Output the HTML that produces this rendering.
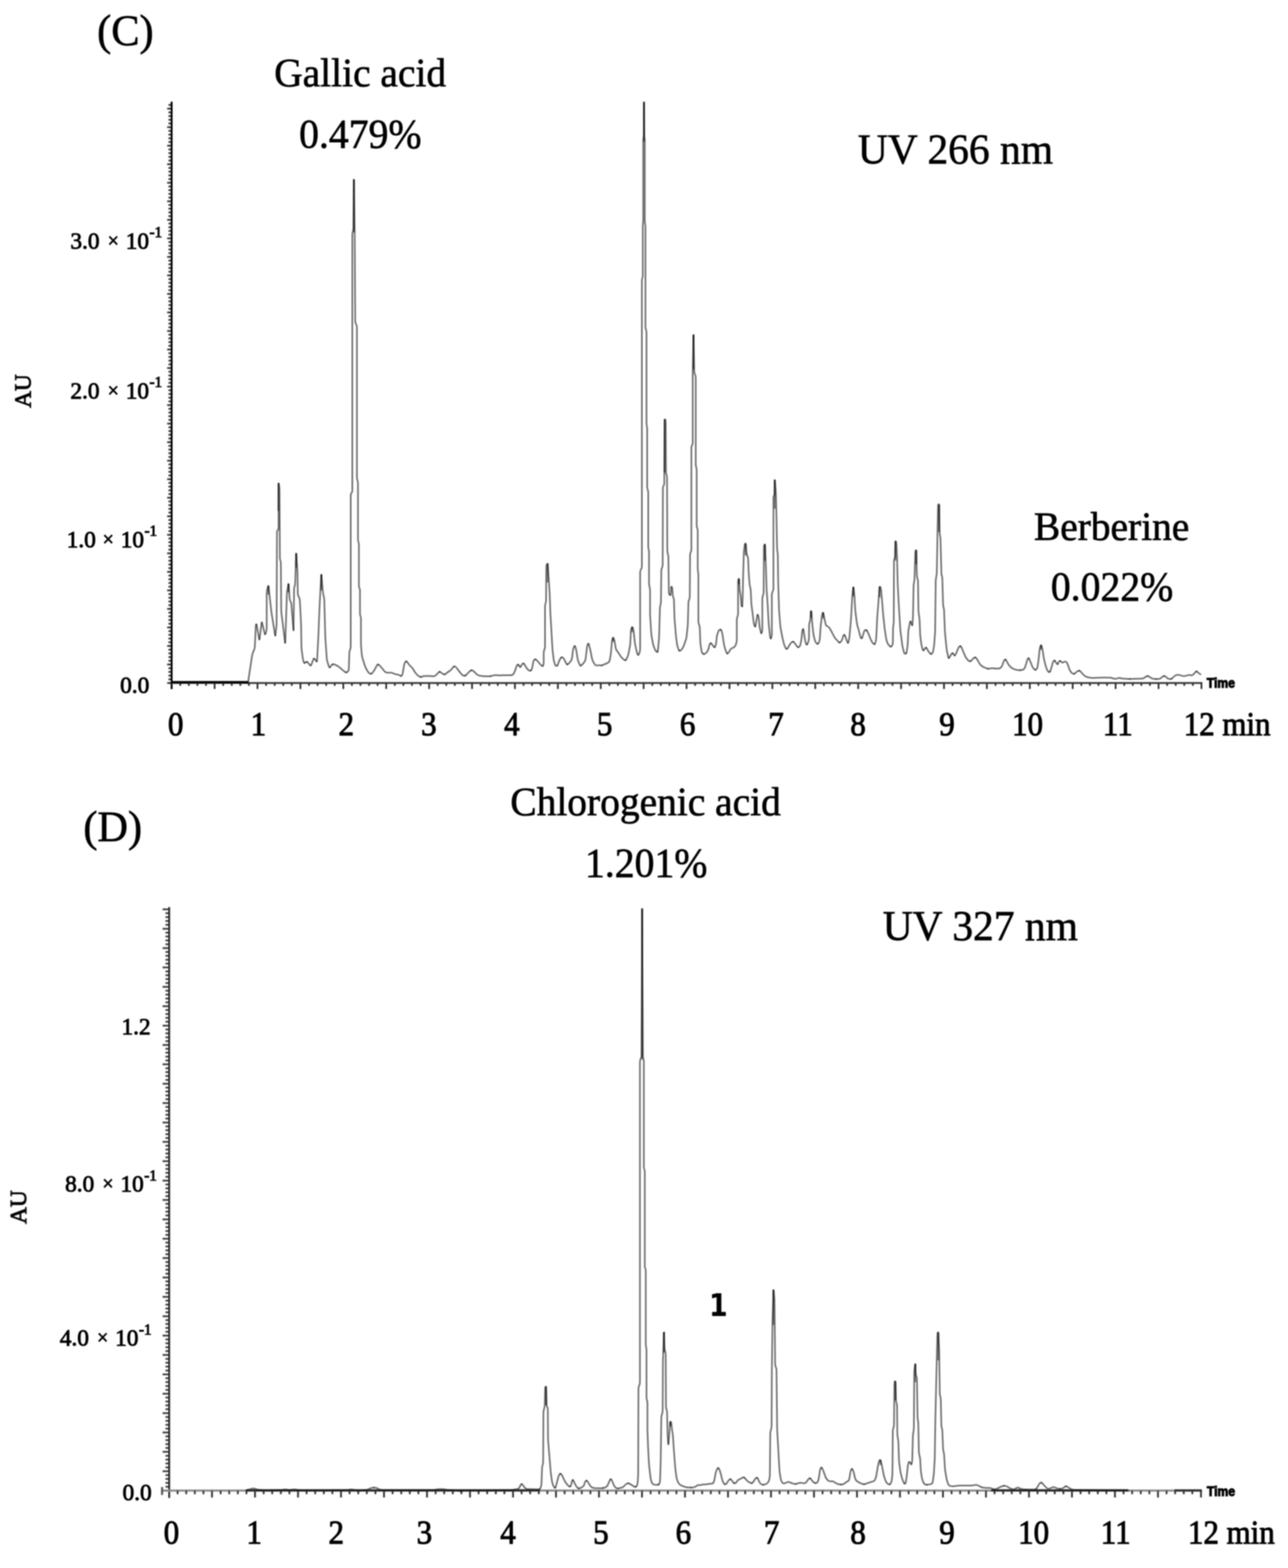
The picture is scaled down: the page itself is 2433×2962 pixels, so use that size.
<!DOCTYPE html>
<html lang="en"><head><meta charset="utf-8"><title>HPLC chromatograms (C) UV 266 nm and (D) UV 327 nm</title>
<style>html,body{margin:0;padding:0;background:#fff}svg{display:block}text{font-family:"Liberation Serif","DejaVu Serif",serif;fill:#000}.b{font-family:"DejaVu Sans","Liberation Sans",sans-serif;font-weight:bold}.tr path{fill:none;stroke:#6c6c6c;stroke-width:3.0;stroke-linejoin:round;stroke-linecap:round;mix-blend-mode:multiply}.tr path.tp{stroke:#000;stroke-opacity:0.5;stroke-width:3.6;stroke-linecap:butt}.t{font-family:"Liberation Sans","DejaVu Sans",sans-serif;font-weight:bold}</style></head>
<body><svg width="2433" height="2962" viewBox="0 0 2433 2962">
<rect width="2433" height="2962" fill="#fff"/>
<defs><filter id="bl" x="-5%" y="-5%" width="110%" height="110%"><feGaussianBlur stdDeviation="1.0"/></filter><filter id="bt" x="-5%" y="-5%" width="110%" height="110%"><feGaussianBlur stdDeviation="0.85"/></filter></defs>
<g filter="url(#bl)">
<path d="M318.2,1283.2H324.2M318.2,1276.2H324.2M318.2,1269.2H324.2M318.2,1262.2H324.2M318.2,1248.2H324.2M318.2,1241.2H324.2M318.2,1234.2H324.2M318.2,1227.2H324.2M318.2,1213.2H324.2M318.2,1206.2H324.2M318.2,1199.2H324.2M318.2,1192.2H324.2M318.2,1178.2H324.2M318.2,1171.2H324.2M318.2,1164.2H324.2M318.2,1157.2H324.2M318.2,1143.2H324.2M318.2,1136.2H324.2M318.2,1129.2H324.2M318.2,1122.2H324.2M318.2,1108.2H324.2M318.2,1101.2H324.2M318.2,1094.2H324.2M318.2,1087.2H324.2M318.2,1073.2H324.2M318.2,1066.2H324.2M318.2,1059.2H324.2M318.2,1052.2H324.2M318.2,1038.2H324.2M318.2,1031.2H324.2M318.2,1024.2H324.2M318.2,1017.2H324.2M318.2,1003.2H324.2M318.2,996.2H324.2M318.2,989.2H324.2M318.2,982.2H324.2M318.2,968.2H324.2M318.2,961.2H324.2M318.2,954.2H324.2M318.2,947.2H324.2M318.2,933.2H324.2M318.2,926.2H324.2M318.2,919.2H324.2M318.2,912.2H324.2M318.2,898.2H324.2M318.2,891.2H324.2M318.2,884.2H324.2M318.2,877.2H324.2M318.2,863.2H324.2M318.2,856.2H324.2M318.2,849.2H324.2M318.2,842.2H324.2M318.2,828.2H324.2M318.2,821.2H324.2M318.2,814.2H324.2M318.2,807.2H324.2M318.2,793.2H324.2M318.2,786.2H324.2M318.2,779.2H324.2M318.2,772.2H324.2M318.2,758.2H324.2M318.2,751.2H324.2M318.2,744.2H324.2M318.2,737.2H324.2M318.2,723.2H324.2M318.2,716.2H324.2M318.2,709.2H324.2M318.2,702.2H324.2M318.2,688.2H324.2M318.2,681.2H324.2M318.2,674.2H324.2M318.2,667.2H324.2M318.2,653.2H324.2M318.2,646.2H324.2M318.2,639.2H324.2M318.2,632.2H324.2M318.2,618.2H324.2M318.2,611.2H324.2M318.2,604.2H324.2M318.2,597.2H324.2M318.2,583.2H324.2M318.2,576.2H324.2M318.2,569.2H324.2M318.2,562.2H324.2M318.2,548.2H324.2M318.2,541.2H324.2M318.2,534.2H324.2M318.2,527.2H324.2M318.2,513.2H324.2M318.2,506.2H324.2M318.2,499.2H324.2M318.2,492.2H324.2M318.2,478.2H324.2M318.2,471.2H324.2M318.2,464.2H324.2M318.2,457.2H324.2M318.2,443.2H324.2M318.2,436.2H324.2M318.2,429.2H324.2M318.2,422.2H324.2M318.2,408.2H324.2M318.2,401.2H324.2M318.2,394.2H324.2M318.2,387.2H324.2M318.2,373.2H324.2M318.2,366.2H324.2M318.2,359.2H324.2M318.2,352.2H324.2M318.2,338.2H324.2M318.2,331.2H324.2M318.2,324.2H324.2M318.2,317.2H324.2M318.2,303.2H324.2M318.2,296.2H324.2M318.2,289.2H324.2M318.2,282.2H324.2M318.2,268.2H324.2M318.2,261.2H324.2M318.2,254.2H324.2M318.2,247.2H324.2M318.2,233.2H324.2M318.2,226.2H324.2M318.2,219.2H324.2M318.2,212.2H324.2M318.2,198.2H324.2" stroke="#3c3c3c" stroke-width="3.6" fill="none"/>
<path d="M315.8,1290.2H324.2M315.8,1255.2H324.2M315.8,1220.2H324.2M315.8,1185.2H324.2M315.8,1150.2H324.2M315.8,1115.2H324.2M315.8,1080.2H324.2M315.8,1045.2H324.2M315.8,1010.2H324.2M315.8,975.2H324.2M315.8,940.2H324.2M315.8,905.2H324.2M315.8,870.2H324.2M315.8,835.2H324.2M315.8,800.2H324.2M315.8,765.2H324.2M315.8,730.2H324.2M315.8,695.2H324.2M315.8,660.2H324.2M315.8,625.2H324.2M315.8,590.2H324.2M315.8,555.2H324.2M315.8,520.2H324.2M315.8,485.2H324.2M315.8,450.2H324.2M315.8,415.2H324.2M315.8,380.2H324.2M315.8,345.2H324.2M315.8,310.2H324.2M315.8,275.2H324.2M315.8,240.2H324.2M315.8,205.2H324.2" stroke="#3c3c3c" stroke-width="3.6" fill="none"/>
<rect x="322.4" y="192" width="3.6" height="1109.8" fill="#000"/>
<path d="M324.2,1290.2H2271.2" stroke="#3c3c3c" stroke-width="3.5" fill="none"/>
<path d="M324.2,1288.8H470" stroke="#000" stroke-width="4.6" fill="none"/>
<path d="M405.4,1290.2v11.2M486.4,1290.2v11.2M567.5,1290.2v11.2M648.5,1290.2v11.2M729.5,1290.2v11.2M810.6,1290.2v11.2M891.7,1290.2v11.2M972.7,1290.2v11.2M1053.8,1290.2v11.2M1134.8,1290.2v11.2M1215.8,1290.2v11.2M1296.9,1290.2v11.2M1378.0,1290.2v11.2M1459.0,1290.2v11.2M1540.0,1290.2v11.2M1621.1,1290.2v11.2M1702.1,1290.2v11.2M1783.2,1290.2v11.2M1864.2,1290.2v11.2M1945.3,1290.2v11.2M2026.3,1290.2v11.2M2107.4,1290.2v11.2M2188.5,1290.2v11.2M2269.5,1290.2v11.2" stroke="#2a2a2a" stroke-width="3.2" fill="none"/>
<path d="M340.5,1290.2v5.2M356.7,1290.2v5.2M372.9,1290.2v5.2M389.1,1290.2v5.2M421.6,1290.2v5.2M437.8,1290.2v5.2M454.0,1290.2v5.2M470.2,1290.2v5.2M502.6,1290.2v5.2M518.8,1290.2v5.2M535.0,1290.2v5.2M551.2,1290.2v5.2M583.7,1290.2v5.2M599.9,1290.2v5.2M616.1,1290.2v5.2M632.3,1290.2v5.2M664.7,1290.2v5.2M680.9,1290.2v5.2M697.1,1290.2v5.2M713.3,1290.2v5.2M745.8,1290.2v5.2M762.0,1290.2v5.2M778.2,1290.2v5.2M794.4,1290.2v5.2M826.8,1290.2v5.2M843.0,1290.2v5.2M859.2,1290.2v5.2M875.4,1290.2v5.2M907.9,1290.2v5.2M924.1,1290.2v5.2M940.3,1290.2v5.2M956.5,1290.2v5.2M988.9,1290.2v5.2M1005.1,1290.2v5.2M1021.3,1290.2v5.2M1037.5,1290.2v5.2M1070.0,1290.2v5.2M1086.2,1290.2v5.2M1102.4,1290.2v5.2M1118.6,1290.2v5.2M1151.0,1290.2v5.2M1167.2,1290.2v5.2M1183.4,1290.2v5.2M1199.6,1290.2v5.2M1232.1,1290.2v5.2M1248.3,1290.2v5.2M1264.5,1290.2v5.2M1280.7,1290.2v5.2M1313.1,1290.2v5.2M1329.3,1290.2v5.2M1345.5,1290.2v5.2M1361.7,1290.2v5.2M1394.2,1290.2v5.2M1410.4,1290.2v5.2M1426.6,1290.2v5.2M1442.8,1290.2v5.2M1475.2,1290.2v5.2M1491.4,1290.2v5.2M1507.6,1290.2v5.2M1523.8,1290.2v5.2M1556.3,1290.2v5.2M1572.5,1290.2v5.2M1588.7,1290.2v5.2M1604.9,1290.2v5.2M1637.3,1290.2v5.2M1653.5,1290.2v5.2M1669.7,1290.2v5.2M1685.9,1290.2v5.2M1718.4,1290.2v5.2M1734.6,1290.2v5.2M1750.8,1290.2v5.2M1767.0,1290.2v5.2M1799.4,1290.2v5.2M1815.6,1290.2v5.2M1831.8,1290.2v5.2M1848.0,1290.2v5.2M1880.5,1290.2v5.2M1896.7,1290.2v5.2M1912.9,1290.2v5.2M1929.1,1290.2v5.2M1961.5,1290.2v5.2M1977.7,1290.2v5.2M1993.9,1290.2v5.2M2010.1,1290.2v5.2M2042.6,1290.2v5.2M2058.8,1290.2v5.2M2075.0,1290.2v5.2M2091.2,1290.2v5.2M2123.6,1290.2v5.2M2139.8,1290.2v5.2M2156.0,1290.2v5.2M2172.2,1290.2v5.2M2204.7,1290.2v5.2M2220.9,1290.2v5.2M2237.1,1290.2v5.2M2253.3,1290.2v5.2" stroke="#2a2a2a" stroke-width="3.2" fill="none"/>
<g class="tr"><path d="M468.8,1287.5L473.1,1259Q473.8,1255 474.3,1251L475.7,1241.5Q476.2,1237.5 477.5,1233.8L477.5,1233.8Q478.8,1230 480,1227.5L480,1227.5Q481.2,1225 481.4,1221L483.1,1184Q483.2,1180 483.9,1179.4L483.9,1179.4Q484.2,1179.1 484.5,1179.9"/>
<path d="M484.5,1179.9Q484.8,1180.7 485.2,1182.7L489.3,1206.1Q489.7,1208 489.9,1208"/>
<path d="M489.9,1208Q490.2,1208 490.5,1206L494,1177.7Q494.3,1175.7 494.6,1175.7"/>
<path d="M494.6,1175.7Q495,1175.7 495.4,1177.6L499.8,1196.1Q500.3,1198.1 500.8,1198.1"/>
<path d="M500.8,1198.1Q501.3,1198.1 501.9,1196.2L502.6,1193.8Q503.8,1190 503.8,1186L503.8,1121.5Q503.8,1117.5 504.8,1113.6L506,1108.9Q506.5,1106.9 506.9,1107"/>
<path d="M506.9,1107Q507.2,1107 507.4,1109L512.1,1151Q512.5,1155 513.1,1159L519.4,1198.5Q519.7,1200.5 520,1200.5"/>
<path d="M520,1200.5Q520.2,1200.5 520.4,1198.5L522.1,1184Q522.5,1180 522.5,1176L523.2,1006.5Q523.2,1002.5 524.8,1001.2L524.8,1001.2Q526.2,1000 526.2,996L526.2,915.2Q526.2,913.2 526.4,913.2"/>
<path d="M526.4,913.2Q526.6,913.2 526.9,915.2L527.4,918.5Q528,922.5 528,926.5L528.7,1053.5Q528.8,1057.5 529.6,1058.8L529.6,1058.8Q530.5,1060 530.5,1064L531.2,1151Q531.2,1155 531.7,1159L538.3,1212.3Q538.5,1214.3 538.7,1214.3"/>
<path d="M538.7,1214.3Q538.8,1214.3 538.9,1212.3L541.9,1124Q542,1120 542.6,1116.1L544.4,1105.2Q544.7,1103.2 544.9,1103.2"/>
<path d="M544.9,1103.2Q545.1,1103.2 545.3,1105.2L547.2,1131Q547.5,1135 548.8,1136.2L548.8,1136.2Q550,1137.5 550.3,1141.5L554.2,1188.5Q554.3,1190.5 554.4,1190.5"/>
<path d="M554.4,1190.5Q554.5,1190.5 554.5,1188.5L555.5,1114Q555.5,1110 556.5,1107.5L556.5,1107.5Q557.5,1105 557.6,1101L559.4,1047.7Q559.4,1045.7 559.5,1045.7"/>
<path d="M559.5,1045.7Q559.6,1045.7 559.8,1047.7L561.7,1076Q562,1080 562,1084L562.5,1121Q562.5,1125 564.4,1127.5L564.4,1127.5Q566.2,1130 566.4,1134L568.6,1176Q568.8,1180 568.8,1184L569.4,1221Q569.5,1225 570,1229L572,1243.5Q572.5,1247.5 573.8,1250.6L573.8,1250.6Q574.4,1252.2 575.2,1252.3"/>
<path d="M575.2,1252.3Q576.1,1252.5 577.2,1251.2L577.2,1251.2Q578.4,1250 579.5,1250.2"/>
<path d="M579.5,1250.2Q580.7,1250.3 581.9,1252L584.6,1255.5Q585.8,1257.2 586.7,1257"/>
<path d="M586.7,1257Q587.7,1256.9 588.4,1255L591.6,1246.3Q592.3,1244.4 593.2,1244.3"/>
<path d="M593.2,1244.3Q594.1,1244.2 595.2,1245.8L596.6,1247.9Q597.7,1249.6 598.3,1249.4"/>
<path d="M598.3,1249.4Q598.9,1249.3 599,1247.3L601,1209Q601.2,1205 601.4,1201L603.6,1146.5Q603.8,1142.5 604,1138.5L606.8,1087.7Q606.9,1085.7 607,1085.7"/>
<path d="M607,1085.7Q607.2,1085.7 607.3,1087.7L609.7,1116Q610,1120 611,1123.9L611.5,1126.1Q612.5,1130 612.6,1134L614.4,1201Q614.5,1205 614.8,1209L617.2,1243.5Q617.5,1247.5 618.8,1251.3L621.2,1258.7Q621.9,1260.6 622.7,1260.7"/>
<path d="M622.7,1260.7Q623.6,1260.8 624.6,1259.1L625.9,1257.1Q626.9,1255.4 628.4,1255"/>
<path d="M628.4,1255Q629.9,1254.5 631.7,1255.2L633.8,1256Q637.5,1257.5 640.6,1260.1L641.9,1261.2Q645,1263.8 648,1266.4L650.7,1268.6Q652.2,1269.9 653.6,1270.1"/>
<path d="M653.6,1270.1Q655,1270.3 656.2,1269.4L656.2,1269.4Q658.8,1267.5 658.9,1263.5L659.9,1234Q660,1230 661.2,1227.5L661.2,1227.5Q662.5,1225 662.5,1221L662.5,936.5Q662.5,932.5 664,931.2L664,931.2Q665.5,930 665.5,926L665.5,444Q665.5,440 666.5,437.5L666.5,437.5Q667.5,435 667.5,431L668.5,341.5Q668.5,339.5 668.5,339.5"/>
<path d="M668.5,339.5Q668.5,339.5 668.6,341.5L669.9,431Q670,435 670,439L671,606Q671,610 672.6,612.5L672.6,612.5Q674.2,615 674.2,619L674.2,901Q674.2,905 675.2,907.5L675.2,907.5Q676.2,910 676.2,914L676.2,1018.5Q676.2,1022.5 677.1,1023.8L677.1,1023.8Q678,1025 678,1029L678,1106Q678,1110 679,1111.2L679,1111.2Q680,1112.5 680,1116.5L680,1158.5Q680,1162.5 680.9,1163.8L680.9,1163.8Q681.8,1165 681.8,1169L681.8,1213.5Q681.8,1217.5 682.1,1221.5L683.4,1236Q683.8,1240 684.9,1243.8L688.8,1256.2Q690,1260 691.9,1263.5L694.3,1267.8Q696.2,1271.2 698.8,1272.5L698.8,1272.5Q700,1273.1 701.2,1272.7"/>
<path d="M701.2,1272.7Q702.5,1272.2 703.7,1270.6L703.8,1270.6Q706.2,1267.5 708.2,1264L711.8,1257.3Q712.8,1255.5 714,1255.3"/>
<path d="M714,1255.3Q715.2,1255.2 716.6,1256.6L717.2,1257.2Q720,1260 722.4,1263.2L725.1,1266.8Q727.5,1270 730.8,1270.6L730.8,1270.6Q734,1271.2 736.5,1270.6L736.5,1270.6Q739,1270 742.6,1271.8L742.9,1272Q746.5,1273.8 749.6,1274.1L749.6,1274.1Q752.8,1274.5 755.2,1276L755.2,1276Q756.5,1276.8 757.4,1276.8"/>
<path d="M757.4,1276.8Q758.4,1276.9 759,1276.2L759,1276.2Q760.2,1275 760.9,1271.1L763.3,1256.4Q764,1252.5 765.9,1250.2L765.9,1250.2Q766.8,1249.1 767.8,1249.4"/>
<path d="M767.8,1249.4Q768.8,1249.7 769.8,1251.4L770.7,1252.8Q772.8,1256.2 775.2,1258.1L775.2,1258.1Q777.8,1260 779.9,1263.4L781.9,1266.6Q784,1270 786.5,1273.1L786.5,1273.1Q789,1276.2 792.1,1277.9L792.1,1277.9Q793.7,1278.7 794.9,1278.8"/>
<path d="M794.9,1278.8Q796.2,1278.9 797.1,1278.2L797.1,1278.2Q799,1277 803,1277L812.5,1277Q816.5,1277 818.4,1277.5L818.4,1277.5Q820.2,1278 822.8,1275.9L822.8,1275.9Q825.2,1273.8 827.8,1270.9L827.8,1270.9Q829,1269.4 830.1,1269.1"/>
<path d="M830.1,1269.1Q831.2,1268.8 832.1,1269.6L832.1,1269.6Q834,1271.2 836.8,1273.1L836.8,1273.1Q838.1,1274.1 839.5,1273.9"/>
<path d="M839.5,1273.9Q840.9,1273.8 842.4,1272.5L842.4,1272.5Q845.2,1270 848.4,1268.1L848.4,1268.1Q851.5,1266.2 853.9,1263.1L855.3,1261.2Q856.5,1259.6 857.6,1259"/>
<path d="M857.6,1259Q858.7,1258.5 859.6,1259L859.6,1259Q861.5,1260 863.8,1263.3L865.4,1265.5Q867.8,1268.8 870.3,1271.8L871.4,1273.2Q874,1276.2 876.5,1276.6L876.5,1276.6Q877.8,1276.8 879,1276.2"/>
<path d="M879,1276.2Q880.2,1275.6 881.5,1274.1L881.5,1274.1Q884,1271.2 886.9,1268.5L887.3,1268.2Q888.8,1266.9 890,1266.4"/>
<path d="M890,1266.4Q891.2,1265.9 892.1,1266.2L892.1,1266.2Q894,1267 896.5,1269.8L896.5,1269.8Q899,1272.5 901.5,1274.4L901.5,1274.4Q904,1276.2 908,1276.7L910,1277Q914,1277.5 918,1277.5L922.5,1277.5Q924.5,1277.5 926.5,1277.2"/>
<path d="M926.5,1277.2Q928.4,1277 930.3,1276.4L931.4,1276.1Q935.2,1275 938.4,1275.4L938.4,1275.4Q941.5,1275.8 945.5,1275.7L955,1275.6Q959,1275.5 963,1275.5L965,1275.5Q969,1275.5 970.7,1271.9L971.1,1271.1Q972.8,1267.5 974,1263.7L975.2,1260Q976.5,1256.2 977.8,1255.6L977.8,1255.6Q978.4,1255.3 979.2,1255.9"/>
<path d="M979.2,1255.9Q979.9,1256.6 980.9,1258.1L980.9,1258.1Q981.8,1259.7 982.6,1259.8"/>
<path d="M982.6,1259.8Q983.4,1260 984,1258.8L984,1258.8Q985.2,1256.2 987.1,1254.1L987.1,1254.1Q988.1,1253.1 989,1253.4"/>
<path d="M989,1253.4Q989.9,1253.7 990.9,1255.4L990.9,1255.4Q992.8,1258.8 995,1262.1L995.5,1262.9Q997.8,1266.2 1000.2,1266.9L1000.2,1266.9Q1001.5,1267.2 1002.4,1266.7"/>
<path d="M1002.4,1266.7Q1003.4,1266.2 1004,1265L1004,1265Q1005.2,1262.5 1005.9,1258.6L1007.1,1251.4Q1007.8,1247.5 1009.6,1246L1009.6,1246Q1010.6,1245.2 1011.7,1245.6"/>
<path d="M1011.7,1245.6Q1012.8,1245.9 1014,1247.2L1014,1247.2Q1016.5,1250 1019,1253.1L1019,1253.1Q1021.5,1256.2 1023.4,1257.5L1023.4,1257.5Q1024.3,1258.1 1025,1258"/>
<path d="M1025,1258Q1025.7,1257.8 1026.1,1256.9L1026.1,1256.9Q1027,1255 1027,1251L1027,1234Q1027,1230 1028.2,1227.5L1028.2,1227.5Q1029.5,1225 1029.5,1221L1029.5,1146.5Q1029.5,1142.5 1030.5,1140L1030.5,1140Q1031.5,1137.5 1031.5,1133.5L1032,1071.5Q1032,1067.5 1033.2,1065.6L1033.2,1065.6Q1033.9,1064.7 1034.3,1065.2"/>
<path d="M1034.3,1065.2Q1034.6,1065.7 1034.8,1067.7L1036.2,1088.5Q1036.5,1092.5 1036.7,1096.5L1038.3,1121Q1038.5,1125 1038.6,1129L1039.4,1151Q1039.5,1155 1039.7,1159L1041.3,1186Q1041.5,1190 1041.7,1194L1043.3,1221Q1043.5,1225 1043.9,1229L1045.6,1243.5Q1046,1247.5 1047.1,1251.3L1047.9,1254.2Q1049,1258 1050.9,1258L1050.9,1258Q1051.8,1258 1052.6,1257.1"/>
<path d="M1052.6,1257.1Q1053.4,1256.1 1054.1,1254.2L1055.2,1251.3Q1056.5,1247.5 1058.4,1244.4L1058.4,1244.4Q1059.3,1242.8 1060.2,1242.1"/>
<path d="M1060.2,1242.1Q1061.2,1241.4 1062.1,1241.6L1062.1,1241.6Q1064,1242 1065.7,1245.6L1066.1,1246.4Q1067.8,1250 1069.6,1253.1L1069.6,1253.1Q1070.6,1254.7 1071.5,1255"/>
<path d="M1071.5,1255Q1072.4,1255.3 1073.4,1254.4L1073.4,1254.4Q1075.2,1252.5 1077.7,1249.4L1077.8,1249.4Q1080.2,1246.2 1080.7,1242.3L1082.3,1229Q1082.8,1225 1084.2,1221.9L1084.2,1221.9Q1085,1220.3 1085.7,1220.5"/>
<path d="M1085.7,1220.5Q1086.3,1220.7 1086.9,1222.6L1087.3,1223.7Q1088.5,1227.5 1089.1,1231.5L1090.9,1243.5Q1091.5,1247.5 1093.1,1251.2L1094.9,1255.1Q1095.7,1256.9 1096.7,1257.2"/>
<path d="M1096.7,1257.2Q1097.8,1257.5 1099,1256.2L1099,1256.2Q1101.5,1253.8 1103.8,1250.6L1103.8,1250.6Q1106,1247.5 1106.4,1243.5L1108.6,1224Q1109,1220 1110.2,1217.2L1110.2,1217.2Q1110.9,1215.9 1111.5,1216.1"/>
<path d="M1111.5,1216.1Q1112,1216.4 1112.6,1218.3L1113.4,1221.2Q1114.5,1225 1115.3,1228.9L1118.2,1243.6Q1119,1247.5 1121,1251L1122,1252.8Q1124,1256.2 1125.9,1256.9L1125.9,1256.9Q1127.8,1257.5 1129.6,1256.9L1129.6,1256.9Q1131.5,1256.2 1134,1256.9L1134,1256.9Q1135.2,1257.2 1136.8,1256.9"/>
<path d="M1136.8,1256.9Q1138.3,1256.6 1140.1,1255.7L1140.4,1255.5Q1144,1253.8 1147.5,1252.5L1147.5,1252.5Q1151,1251.2 1151.7,1247.3L1153.3,1238.9Q1154,1235 1154.3,1231L1155.7,1214Q1156,1210 1157.1,1206.5L1157.1,1206.5Q1157.7,1204.8 1158.3,1204.8"/>
<path d="M1158.3,1204.8Q1158.9,1204.8 1159.5,1206.5L1159.5,1206.5Q1160.8,1210 1161.4,1214L1162.9,1223.5Q1163.5,1227.5 1165.8,1230L1165.8,1230Q1168,1232.5 1170,1236L1171,1237.8Q1173,1241.2 1176,1243.9L1178.7,1246.1Q1180.2,1247.4 1181.4,1247.2"/>
<path d="M1181.4,1247.2Q1182.6,1246.9 1183.4,1245.1L1185.1,1241.2Q1186.8,1237.5 1187.5,1233.6L1189.8,1221.4Q1190.5,1217.5 1190.7,1213.5L1191.6,1194Q1191.8,1190 1193,1186.5L1193,1186.5Q1193.6,1184.8 1194.2,1184.8"/>
<path d="M1194.2,1184.8Q1194.9,1184.8 1195.5,1186.5L1195.5,1186.5Q1196.8,1190 1197.1,1194L1198.9,1211Q1199.2,1215 1200.1,1218.9L1202.2,1228.6Q1203,1232.5 1204.2,1235.6L1204.2,1235.6Q1204.9,1237.2 1205.6,1237"/>
<path d="M1205.6,1237Q1206.3,1236.9 1207.1,1235.1L1207.7,1233.7Q1209.2,1230 1209.2,1226L1209.2,1081.5Q1209.2,1077.5 1210.9,1075.6L1210.9,1075.6Q1212.5,1073.8 1212.5,1069.8L1212.5,531.5Q1212.5,527.5 1213.4,525L1213.4,525Q1214.2,522.5 1214.2,518.5L1214.2,429Q1214.2,425 1214.6,422.5L1214.6,422.5Q1215,420 1215,416L1215,266.5Q1215,262.5 1215.6,260L1215.6,260Q1216.2,257.5 1216.3,253.5L1216.5,195.2Q1216.5,193.2 1216.5,193.2"/>
<path d="M1216.5,193.2Q1216.5,193.2 1216.5,195.2L1217,253.5Q1217,257.5 1217.5,260L1217.5,260Q1218,262.5 1218,266.5L1218,416Q1218,420 1218.6,422.5L1218.6,422.5Q1219.2,425 1219.2,429L1219.2,616Q1219.2,620 1220.2,622.5L1220.2,622.5Q1221.2,625 1221.2,629L1221.2,798.5Q1221.2,802.5 1221.9,805L1221.9,805Q1222.5,807.5 1222.5,811.5L1222.5,918.5Q1222.5,922.5 1223.5,925L1223.5,925Q1224.5,927.5 1224.5,931.5L1224.5,1031Q1224.5,1035 1225.2,1037.5L1225.2,1037.5Q1226,1040 1226,1044L1226,1101Q1226,1105 1227,1108.8L1227,1108.8Q1228,1112.5 1228,1116.5L1228,1158.5Q1228,1162.5 1228.3,1166.5L1230.2,1196Q1230.5,1200 1231.2,1203.9L1233.5,1216.1Q1234.2,1220 1235.9,1223.7L1237.6,1227.6Q1239.2,1231.2 1240.9,1231.6L1240.9,1231.6Q1241.7,1231.8 1242.2,1230.9"/>
<path d="M1242.2,1230.9Q1242.7,1230 1242.9,1228L1244.6,1209Q1245,1205 1245.1,1201L1246.6,1149Q1246.8,1145 1247.6,1142.5L1247.6,1142.5Q1248.5,1140 1248.5,1136L1249.2,1079Q1249.2,1075 1250.5,1072.5L1250.5,1072.5Q1251.8,1070 1251.8,1066L1252.2,922.7Q1252.2,918.8 1253.5,917.5L1253.5,917.5Q1254.8,916.2 1254.8,912.3L1255.5,795.2Q1255.5,793.2 1255.7,792.6"/>
<path d="M1255.7,792.6Q1256,791.9 1256.5,792.5L1256.5,792.5Q1257.5,793.8 1257.5,797.7L1258,891Q1258,895 1259,896.9L1259,896.9Q1260,898.8 1260,902.7L1260.5,1038.5Q1260.5,1042.5 1261.5,1046.2L1261.5,1046.2Q1262.5,1050 1262.6,1054L1263.4,1118.5Q1263.5,1122.5 1265.1,1123.8L1265.1,1123.8Q1265.9,1124.4 1266.4,1123.7"/>
<path d="M1266.4,1123.7Q1266.9,1123 1267,1121L1267.7,1111.5Q1267.9,1109.5 1268.2,1108.8"/>
<path d="M1268.2,1108.8Q1268.5,1108.1 1269,1108.8L1269,1108.8Q1270,1110 1270.2,1114L1270.8,1123.5Q1271,1127.5 1272,1128.8L1272,1128.8Q1273,1130 1273.1,1134L1274.1,1166Q1274.2,1170 1274.6,1174L1276.4,1196Q1276.8,1200 1277.2,1204L1278.8,1216Q1279.2,1220 1280.7,1223.7L1281.6,1226.3Q1282.3,1228.1 1283.1,1228.9"/>
<path d="M1283.1,1228.9Q1283.9,1229.7 1284.9,1229.4L1284.9,1229.4Q1286.8,1228.8 1288.7,1225.3L1289.8,1223.5Q1291.8,1220 1293,1216.2L1295.5,1208.8Q1296.8,1205 1297.1,1201L1298.9,1184Q1299.2,1180 1299.4,1176L1300.4,1139Q1300.5,1135 1301.8,1132.5L1301.8,1132.5Q1303,1130 1303,1126L1303.5,1049Q1303.5,1045 1304.8,1043.1L1304.8,1043.1Q1306,1041.2 1306,1037.2L1306,846.5Q1306,842.5 1307.2,841.2L1307.2,841.2Q1308.5,840 1308.5,836L1308.5,709Q1308.5,705 1308.6,701L1309.9,635Q1310,633 1310,633"/>
<path d="M1310,633Q1310,633 1310.1,635L1311.4,701Q1311.5,705 1312.9,707.5L1312.9,707.5Q1314.2,710 1314.2,714L1314.2,876Q1314.2,880 1315.1,882.5L1315.1,882.5Q1316,885 1316,889L1316,991Q1316,995 1317,997.5L1317,997.5Q1318,1000 1318,1004L1318,1073.5Q1318,1077.5 1318.6,1080L1318.6,1080Q1319.2,1082.5 1319.2,1086.5L1319.2,1173.5Q1319.2,1177.5 1320.5,1180L1320.5,1180Q1321.8,1182.5 1321.9,1186.5L1322.8,1211Q1323,1215 1323.6,1219L1324.9,1228.5Q1325.5,1232.5 1327.4,1234.4L1327.4,1234.4Q1328.3,1235.3 1329.4,1235.5"/>
<path d="M1329.4,1235.5Q1330.5,1235.6 1331.8,1235L1331.8,1235Q1334.2,1233.8 1336.1,1230.6L1336.1,1230.6Q1338,1227.5 1338.9,1223.6L1339.6,1220.2Q1340.5,1216.2 1341.8,1215.4L1341.8,1215.4Q1342.4,1214.9 1343.2,1215.4"/>
<path d="M1343.2,1215.4Q1343.9,1215.9 1344.9,1217.2L1344.9,1217.2Q1346.8,1220 1348.4,1221.9L1348.4,1221.9Q1349.2,1222.8 1349.9,1222.5"/>
<path d="M1349.9,1222.5Q1350.6,1222.2 1351.2,1220.6L1351.2,1220.6Q1352.5,1217.5 1352.9,1213.5L1353.9,1204Q1354.2,1200 1355.7,1196.3L1356.6,1193.7Q1358,1190 1359.9,1189.4L1359.9,1189.4Q1360.8,1189.1 1361.6,1189.7"/>
<path d="M1361.6,1189.7Q1362.4,1190.3 1363,1191.9L1363,1191.9Q1364.2,1195 1364.8,1199L1366.2,1208.5Q1366.8,1212.5 1367.5,1216.4L1368.5,1221.1Q1369.2,1225 1370.8,1228.7L1372,1231.8Q1372.7,1233.6 1373.5,1234.2"/>
<path d="M1373.5,1234.2Q1374.3,1234.8 1375.1,1234L1375.1,1234Q1376.8,1232.5 1378.5,1228.9L1378.7,1228.6Q1380.5,1225 1383,1224.4L1383,1224.4Q1385.5,1223.8 1387.4,1221.9L1387.4,1221.9Q1389.2,1220 1390.5,1216.2L1390.5,1216.2Q1391.8,1212.5 1391.8,1208.5L1391.8,1171.5Q1391.8,1167.5 1393,1165L1393,1165Q1394.2,1162.5 1394.2,1158.5L1394.2,1099Q1394.2,1095 1395.1,1093.8L1395.1,1093.8Q1395.6,1093.1 1395.8,1093.8"/>
<path d="M1395.8,1093.8Q1396.1,1094.5 1396.2,1096.5L1397.3,1113.5Q1397.5,1117.5 1398.4,1121.2L1398.4,1121.2Q1399.2,1125 1399.5,1129L1400.3,1141Q1400.5,1145 1401.4,1145.6L1401.4,1145.6Q1401.8,1145.9 1402.1,1145.1"/>
<path d="M1402.1,1145.1Q1402.3,1144.3 1402.4,1142.3L1402.9,1129Q1403,1125 1403.1,1121L1403.7,1091.5Q1403.8,1087.5 1403.9,1083.5L1404.9,1049Q1405,1045 1405.4,1041L1406.4,1031.5Q1406.8,1027.5 1407.6,1026.9L1407.6,1026.9Q1408.1,1026.6 1408.4,1027.4"/>
<path d="M1408.4,1027.4Q1408.7,1028.2 1408.9,1030.2L1410.1,1043.5Q1410.5,1047.5 1411.8,1050L1411.8,1050Q1413,1052.5 1413.2,1056.5L1414.1,1078.5Q1414.2,1082.5 1414.6,1086.5L1415.7,1101Q1416,1105 1417,1108.8L1417,1108.8Q1418,1112.5 1418.2,1116.5L1419.1,1136Q1419.2,1140 1419.7,1144L1421.3,1156Q1421.8,1160 1422.2,1164L1423.8,1176Q1424.2,1180 1425.5,1182.5L1425.5,1182.5Q1426.1,1183.8 1426.6,1183.4"/>
<path d="M1426.6,1183.4Q1427.1,1183 1427.4,1181.1L1428.6,1173.9Q1429.2,1170 1429.9,1166.1L1430.3,1163.9Q1430.7,1162 1431.1,1161.6"/>
<path d="M1431.1,1161.6Q1431.5,1161.2 1432,1162.5L1432,1162.5Q1433,1165 1433.4,1169L1434.6,1181Q1435,1185 1435.9,1188.9L1437.1,1193.6Q1437.5,1195.6 1438,1195.9"/>
<path d="M1438,1195.9Q1438.5,1196.2 1439,1195L1439,1195Q1440,1192.5 1440,1188.5L1440,1131.5Q1440,1127.5 1441.2,1125L1441.2,1125Q1442.5,1122.5 1442.5,1118.5L1443,1034Q1443,1030 1444,1028.8L1444,1028.8Q1444.5,1028.1 1444.8,1028.8"/>
<path d="M1444.8,1028.8Q1445.1,1029.5 1445.2,1031.5L1446.6,1066Q1446.8,1070 1446.9,1074L1447.9,1108.5Q1448,1112.5 1448.3,1116.5L1449.7,1136Q1450,1140 1450.2,1144L1451.6,1171Q1451.8,1175 1452.1,1179L1453.9,1196Q1454.2,1200 1454.9,1203.8L1454.9,1203.8Q1455.2,1205.6 1455.7,1205.9"/>
<path d="M1455.7,1205.9Q1456.1,1206.2 1456.8,1205L1456.8,1205Q1458,1202.5 1458,1198.5L1458,1124Q1458,1120 1459.5,1117.5L1459.5,1117.5Q1461,1115 1461,1111L1461,941.5Q1461,937.5 1462,936.2L1462,936.2Q1463,935 1463.1,931L1463.4,909Q1463.5,907 1463.6,907"/>
<path d="M1463.6,907Q1463.7,907 1463.9,909L1465.1,923.5Q1465.5,927.5 1465.6,931.5L1466.6,971Q1466.8,975 1466.8,979L1467.9,1036Q1468,1040 1468.6,1042.5L1468.6,1042.5Q1469.2,1045 1469.3,1049L1469.9,1096Q1470,1100 1470.1,1104L1471.6,1151Q1471.8,1155 1472.1,1159L1473.9,1181Q1474.2,1185 1475,1188.9L1477.3,1201.1Q1478,1205 1479,1208.9L1480.8,1216.1Q1481.8,1220 1483.7,1223.5L1484,1224Q1485,1225.8 1486,1225.8"/>
<path d="M1486,1225.8Q1487,1225.8 1488.1,1224.1L1488.4,1223.4Q1490.5,1220 1492.4,1216.9L1492.4,1216.9Q1494.2,1213.8 1496.4,1212.5L1496.4,1212.5Q1497.4,1211.9 1498.5,1212.3"/>
<path d="M1498.5,1212.3Q1499.6,1212.8 1500.8,1214.4L1500.8,1214.4Q1503,1217.5 1505.2,1220.6L1505.2,1220.6Q1506.4,1222.2 1507.5,1222.5"/>
<path d="M1507.5,1222.5Q1508.6,1222.8 1509.6,1221.9L1509.6,1221.9Q1511.8,1220 1512.4,1216.1L1513.6,1208.9Q1514.2,1205 1514.6,1201L1515.2,1194Q1515.5,1190 1516.5,1188.8L1516.5,1188.8Q1517,1188.1 1517.4,1188.8"/>
<path d="M1517.4,1188.8Q1517.8,1189.5 1518.1,1191.5L1518.7,1196Q1519.2,1200 1519.9,1203.9L1521.1,1211.1Q1521.8,1215 1523,1216.9L1523,1216.9Q1523.6,1217.8 1524.3,1217.4"/>
<path d="M1524.3,1217.4Q1525,1216.9 1525.8,1215.1L1526.4,1213.7Q1528,1210 1528.1,1206L1528.4,1181.5Q1528.5,1177.5 1529.5,1175L1529.5,1175Q1530.5,1172.5 1530.8,1168.5L1531.5,1157.7Q1531.6,1155.7 1531.8,1154.9"/>
<path d="M1531.8,1154.9Q1532.1,1154.1 1532.4,1154.4L1532.4,1154.4Q1533,1155 1533.2,1159L1534,1173.5Q1534.2,1177.5 1534.7,1181.5L1536.3,1196Q1536.8,1200 1537.8,1203.9L1539.4,1209.9Q1540.5,1213.8 1542.8,1215.6L1542.8,1215.6Q1543.9,1216.6 1544.9,1216.1"/>
<path d="M1544.9,1216.1Q1545.8,1215.7 1546.7,1213.9L1546.8,1213.6Q1548.5,1210 1548.7,1206L1549.8,1189Q1550,1185 1550.5,1181L1552.5,1164Q1553,1160 1554,1158.1L1554,1158.1Q1554.5,1157.2 1554.9,1157.7"/>
<path d="M1554.9,1157.7Q1555.4,1158.2 1555.7,1160.2L1556.8,1166.1Q1557.5,1170 1558.4,1173.9L1559.6,1178.6Q1560.5,1182.5 1563,1183.1L1563,1183.1Q1565.5,1183.8 1567.5,1187.2L1568.5,1189Q1570.5,1192.5 1572.3,1196.1L1575,1201.4Q1576.8,1205 1579.2,1207.5L1579.2,1207.5Q1581.8,1210 1583.9,1212.5L1583.9,1212.5Q1584.9,1213.8 1586,1213.8"/>
<path d="M1586,1213.8Q1587.1,1213.8 1588.2,1212.5L1588.2,1212.5Q1590.5,1210 1591.5,1206.1L1592,1203.9Q1593,1200 1594.2,1199.4L1594.2,1199.4Q1594.9,1199.1 1595.5,1199.9"/>
<path d="M1595.5,1199.9Q1596.1,1200.6 1596.8,1202.5L1597.2,1203.7Q1598.5,1207.5 1600,1211.2L1600.5,1212.5Q1601.3,1214.4 1601.8,1214.3"/>
<path d="M1601.8,1214.3Q1602.4,1214.3 1602.9,1212.3L1603.6,1208.9Q1604.5,1205 1604.8,1201L1607.2,1174Q1607.5,1170 1607.7,1166L1609.8,1129Q1610,1125 1610.5,1121L1611.5,1111.5Q1611.8,1109.5 1612,1109.5"/>
<path d="M1612,1109.5Q1612.2,1109.5 1612.5,1111.5L1613.5,1121Q1614,1125 1614.2,1129L1615.5,1151Q1615.8,1155 1616.3,1159L1618.5,1176Q1619,1180 1620.1,1183.8L1620.9,1186.2Q1622,1190 1623,1193.9L1624.8,1201.1Q1625.8,1205 1627,1205.6L1627,1205.6Q1627.6,1205.9 1628.2,1205.1"/>
<path d="M1628.2,1205.1Q1628.8,1204.3 1629.3,1202.4L1629.7,1201.3Q1630.8,1197.5 1632,1193.8L1632,1193.8Q1633.2,1190 1635.1,1190L1635.1,1190Q1636.1,1190 1637,1190.9"/>
<path d="M1637,1190.9Q1637.9,1191.8 1638.8,1193.6L1639,1193.9Q1640.8,1197.5 1642.2,1201.2L1643.1,1203.8Q1644.5,1207.5 1646.3,1211.1L1646.5,1211.4Q1648.2,1215 1650.1,1216.2L1650.1,1216.2Q1651.1,1216.9 1651.8,1216.6"/>
<path d="M1651.8,1216.6Q1652.6,1216.2 1653.2,1215L1653.2,1215Q1654.5,1212.5 1654.8,1208.5L1655.5,1199Q1655.8,1195 1655.9,1191L1656.8,1171.5Q1657,1167.5 1657.3,1163.5L1659.2,1139Q1659.5,1135 1659.8,1131L1661.2,1111.5Q1661.4,1109.5 1661.7,1108.8"/>
<path d="M1661.7,1108.8Q1662.1,1108.1 1662.8,1108.8L1662.8,1108.8Q1664,1110 1664.3,1114L1665.4,1126Q1665.8,1130 1666.1,1134L1667.9,1156Q1668.2,1160 1668.6,1164L1670.4,1181Q1670.8,1185 1671.3,1189L1673.9,1206Q1674.5,1210 1676.1,1213.7L1676.7,1215.1Q1678.2,1218.8 1680.8,1220.6L1680.8,1220.6Q1682,1221.6 1683,1221.4"/>
<path d="M1683,1221.4Q1684.1,1221.2 1684.9,1220L1684.9,1220Q1686.5,1217.5 1686.6,1213.5L1686.9,1189Q1687,1185 1687.6,1181.2L1687.6,1181.2Q1688.2,1177.5 1688.3,1173.5L1688.7,1061.5Q1688.8,1057.5 1689.8,1055L1689.8,1055Q1690.8,1052.5 1690.8,1048.5L1691.4,1025.2Q1691.5,1023.2 1691.7,1022.7"/>
<path d="M1691.7,1022.7Q1691.9,1022.2 1692.4,1023.1L1692.4,1023.1Q1693.2,1025 1693.4,1029L1694.3,1048.5Q1694.5,1052.5 1694.6,1056.5L1695.7,1101Q1695.8,1105 1696,1109L1698,1146Q1698.2,1150 1698.5,1154L1700.5,1186Q1700.8,1190 1701.2,1194L1704,1216Q1704.5,1220 1705.5,1223.9L1707.3,1231.1Q1708.2,1235 1710.1,1235L1710.1,1235Q1711.1,1235 1711.7,1234"/>
<path d="M1711.7,1234Q1712.3,1233 1712.7,1231.1L1713.8,1223.9Q1714.5,1220 1714.7,1216L1715.6,1196.5Q1715.8,1192.5 1716.4,1188.6L1716.8,1186.4Q1717.5,1182.5 1718.3,1178.6L1718.7,1176.4Q1719.1,1174.5 1719.6,1174.1"/>
<path d="M1719.6,1174.1Q1720,1173.8 1720.5,1175L1720.5,1175Q1721.5,1177.5 1722.4,1180L1722.4,1180Q1722.8,1181.2 1723.1,1180.9"/>
<path d="M1723.1,1180.9Q1723.4,1180.5 1723.6,1178.5L1724.2,1171.5Q1724.5,1167.5 1724.6,1163.5L1725.7,1109Q1725.8,1105 1726.4,1101.1L1726.8,1098.9Q1727.5,1095 1727.6,1091L1728.9,1044Q1729,1040 1729.9,1039.4L1729.9,1039.4Q1730.3,1039.1 1730.6,1039.9"/>
<path d="M1730.6,1039.9Q1730.8,1040.7 1730.8,1042.7L1731.9,1086Q1732,1090 1733,1092.5L1733,1092.5Q1734,1095 1734.1,1099L1734.9,1151Q1735,1155 1735.5,1159L1736.5,1166Q1737,1170 1737.2,1174L1738.1,1196Q1738.2,1200 1738.7,1204L1740.3,1216Q1740.8,1220 1742,1223.8L1742.8,1226.2Q1743.4,1228.1 1744.1,1228.4"/>
<path d="M1744.1,1228.4Q1744.8,1228.8 1745.5,1227.5L1745.5,1227.5Q1747,1225 1748.2,1223.8L1748.2,1223.8Q1748.9,1223.1 1749.6,1223.7"/>
<path d="M1749.6,1223.7Q1750.4,1224.3 1751.3,1226.1L1751.5,1226.4Q1753.2,1230 1755.7,1233.1L1755.8,1233.1Q1757,1234.7 1758.1,1235.2"/>
<path d="M1758.1,1235.2Q1759.2,1235.6 1760.1,1235L1760.1,1235Q1762,1233.8 1762.7,1229.8L1763.8,1223.9Q1764.5,1220 1764.8,1216L1766.2,1196.5Q1766.5,1192.5 1766.5,1188.5L1767.5,1099Q1767.5,1095 1768.3,1091.1L1768.7,1088.9Q1769.5,1085 1769.6,1081L1770.7,1019Q1770.8,1015 1770.8,1011L1771.9,956.5Q1772,952.5 1773,952.5L1773,952.5Q1773.5,952.5 1773.8,953.5"/>
<path d="M1773.8,953.5Q1774,954.5 1774.1,956.5L1774.9,1006Q1775,1010 1775.8,1012.5L1775.8,1012.5Q1776.5,1015 1776.6,1019L1778.2,1081Q1778.2,1085 1779.1,1087.5L1779.1,1087.5Q1780,1090 1780.1,1094L1781.4,1141Q1781.5,1145 1782.4,1147.5L1782.4,1147.5Q1783.2,1150 1783.4,1154L1784.8,1191Q1785,1195 1785.4,1199L1787.9,1223.5Q1788.2,1227.5 1789.1,1231.4L1791.2,1241.1Q1791.6,1243 1792.2,1243.1"/>
<path d="M1792.2,1243.1Q1792.9,1243.2 1793.8,1241.4L1794,1241.1Q1795.8,1237.5 1797.6,1235L1797.6,1235Q1798.6,1233.8 1799.5,1234"/>
<path d="M1799.5,1234Q1800.4,1234.3 1801.3,1236.1L1801.5,1236.4Q1802.4,1238.2 1803.2,1238.2"/>
<path d="M1803.2,1238.2Q1804.1,1238.2 1805,1236.4L1805.2,1236.1Q1807,1232.5 1808.4,1228.8L1809.3,1226.2Q1810.8,1222.5 1812.6,1221L1812.6,1221Q1813.6,1220.2 1814.5,1220.8"/>
<path d="M1814.5,1220.8Q1815.3,1221.3 1816.2,1223.1L1816.6,1223.9Q1818.2,1227.5 1819.7,1231.2L1821.8,1236.3Q1823.2,1240 1825.5,1243.3L1826,1244.2Q1828.2,1247.5 1830.8,1248.8L1830.8,1248.8Q1832,1249.4 1833.2,1248.9"/>
<path d="M1833.2,1248.9Q1834.5,1248.4 1835.7,1246.9L1835.8,1246.9Q1838.2,1243.8 1840.1,1242.5L1840.1,1242.5Q1841.1,1241.9 1842,1242"/>
<path d="M1842,1242Q1842.9,1242.2 1843.9,1243.1L1843.9,1243.1Q1845.8,1245 1847.5,1248.6L1849,1251.4Q1850.8,1255 1853.9,1257.5L1853.9,1257.5Q1857,1260 1860.7,1261.4L1863.3,1262.3Q1865.1,1263 1866.8,1263.2"/>
<path d="M1866.8,1263.2Q1868.6,1263.3 1870.1,1262.9L1870.1,1262.9Q1873.2,1262 1876.4,1262.5L1876.4,1262.5Q1879.5,1263 1883.5,1263L1885.5,1263Q1889.5,1263 1891.4,1260.2L1891.4,1260.2Q1893.2,1257.5 1894.5,1253.7L1895.3,1251.3Q1896.5,1247.5 1898,1246.2L1898,1246.2Q1898.8,1245.6 1899.6,1246.2"/>
<path d="M1899.6,1246.2Q1900.4,1246.8 1901.3,1248.6L1901.5,1248.9Q1903.2,1252.5 1905.5,1255.8L1906,1256.7Q1908.2,1260 1911.7,1262L1913.5,1263Q1917,1265 1921,1265.5L1923,1265.8Q1925,1266 1926.9,1266"/>
<path d="M1926.9,1266Q1928.9,1265.9 1930.8,1265.6L1930.8,1265.6Q1934.5,1265 1935.9,1261.3L1936.8,1258.7Q1938.2,1255 1939.2,1251.1L1939.8,1248.9Q1940.8,1245 1942,1243.8L1942,1243.8Q1942.6,1243.1 1943.3,1243.7"/>
<path d="M1943.3,1243.7Q1944,1244.3 1944.8,1246.2L1944.9,1246.3Q1946.5,1250 1947.9,1253.7L1949.3,1257.5Q1950.8,1261.2 1953.2,1263.8L1953.2,1263.8Q1954.5,1265 1955.6,1265.2"/>
<path d="M1955.6,1265.2Q1956.7,1265.3 1957.6,1264.4L1957.6,1264.4Q1959.5,1262.5 1960.1,1258.5L1961.4,1249Q1962,1245 1962.4,1241L1963.6,1229Q1964,1225 1965.2,1221.2L1965.3,1220.8Q1965.9,1218.9 1966.5,1218.9"/>
<path d="M1966.5,1218.9Q1967.1,1218.9 1967.7,1220.8L1967.8,1221.2Q1969,1225 1969.6,1229L1971.4,1241Q1972,1245 1973,1248.9L1974.8,1256.1Q1975.8,1260 1977.3,1263.7L1977.9,1265.1Q1979.5,1268.8 1981.4,1269.4L1981.4,1269.4Q1982.3,1269.7 1983.1,1268.9"/>
<path d="M1983.1,1268.9Q1983.9,1268.1 1984.5,1266.2L1985.3,1263.8Q1986.5,1260 1987.5,1256.1L1988.5,1252.6Q1989.5,1248.8 1991,1247.9L1991,1247.9Q1991.8,1247.4 1992.5,1248.1"/>
<path d="M1992.5,1248.1Q1993.3,1248.7 1994.1,1250.4L1994.1,1250.4Q1995.8,1253.8 1997,1254.4L1997,1254.4Q1997.6,1254.7 1998,1254.4"/>
<path d="M1998,1254.4Q1998.4,1254.1 1998.6,1253.1L1998.6,1253.1Q1999,1251.2 2000.9,1249.4L2000.9,1249.4Q2001.8,1248.4 2002.8,1248.6"/>
<path d="M2002.8,1248.6Q2003.7,1248.8 2004.6,1250L2004.6,1250Q2006.5,1252.5 2008.4,1251.2L2008.4,1251.2Q2010.2,1250 2012.1,1249.8L2012.1,1249.8Q2014,1249.5 2015.5,1252.2L2015.5,1252.2Q2017,1255 2018.2,1258.8L2019,1261.2Q2020.2,1265 2022.1,1268.1L2022.1,1268.1Q2024,1271.2 2026.5,1272.5L2026.5,1272.5Q2027.8,1273.1 2029,1272.8"/>
<path d="M2029,1272.8Q2030.2,1272.5 2031.5,1271.2L2031.5,1271.2Q2034,1268.8 2036.2,1267.5L2036.2,1267.5Q2037.4,1266.9 2038.5,1267"/>
<path d="M2038.5,1267Q2039.6,1267.2 2040.6,1268.1L2040.6,1268.1Q2042.8,1270 2045.2,1273.1L2045.3,1273.1Q2047.8,1276.2 2050.9,1277.9L2050.9,1277.9Q2054,1279.5 2058,1280L2060,1280.3Q2064,1280.8 2068,1280.6L2075,1280.2Q2079,1280 2083,1280L2095,1280Q2099,1280 2101.5,1281.2L2101.5,1281.2Q2104,1282.5 2107.1,1282.2L2107.1,1282.2Q2110.2,1282 2112.1,1281L2112.1,1281Q2114,1280 2116.5,1281L2116.5,1281Q2119,1282 2123,1282.1L2130,1282.4Q2132,1282.4 2134,1282.4"/>
<path d="M2134,1282.4Q2136,1282.5 2138,1282.4L2155,1282.1Q2159,1282 2161.5,1280.4L2161.5,1280.4Q2164,1278.8 2165.9,1277.5L2165.9,1277.5Q2166.8,1276.9 2167.8,1276.9"/>
<path d="M2167.8,1276.9Q2168.7,1276.9 2169.6,1277.5L2169.6,1277.5Q2171.5,1278.8 2174,1280.4L2174,1280.4Q2176.5,1282 2180.2,1282.5L2180.2,1282.5Q2182.1,1282.8 2184,1282.8"/>
<path d="M2184,1282.8Q2185.9,1282.9 2187.8,1282.8L2187.8,1282.8Q2191.5,1282.5 2193.4,1280.6L2193.4,1280.6Q2195.2,1278.8 2197.1,1277.5L2197.1,1277.5Q2198.1,1276.9 2199,1276.9"/>
<path d="M2199,1276.9Q2199.9,1276.9 2200.9,1277.5L2200.9,1277.5Q2202.8,1278.8 2204.6,1280.6L2204.6,1280.6Q2206.5,1282.5 2209.6,1282.8L2209.6,1282.8Q2211.2,1282.9 2212.4,1282.4"/>
<path d="M2212.4,1282.4Q2213.7,1281.9 2214.6,1280.9L2214.6,1280.9Q2216.5,1278.8 2219,1276.9L2219,1276.9Q2221.5,1275 2224,1274.8L2224,1274.8Q2226.5,1274.5 2229,1275.4L2229,1275.4Q2231.5,1276.2 2234,1276.9L2234,1276.9Q2236.5,1277.5 2239,1276.9L2239,1276.9Q2241.5,1276.2 2244,1275.4L2244,1275.4Q2246.5,1274.5 2248.4,1275.4L2248.4,1275.4Q2250.2,1276.2 2252.1,1275.4L2252.1,1275.4Q2254,1274.5 2255.9,1272.2L2255.9,1272.2Q2257.8,1270 2259,1268.8L2259,1268.8Q2259.6,1268.1 2260.3,1268.3"/>
<path d="M2260.3,1268.3Q2261.1,1268.4 2261.9,1269.4L2261.9,1269.4Q2263.5,1271.2 2265.6,1272.5L2267.8,1273.8"/><path class="tp" d="M507.0,1106.5v17.1M526.2,912.8v52.4M545.0,1102.8v16.4M559.5,1045.2v26.8M607.0,1085.2v30.1M668.5,339.0v100.0M1034.5,1065.2v35.0M1158.2,1204.5v8.2M1194.2,1184.5v10.0M1216.5,192.8v75.0M1255.5,792.8v100.0M1310.0,632.5v65.0M1396.0,1094.0v9.7M1408.5,1027.8v21.6M1445.0,1029.0v30.6M1463.5,906.5v54.4M1531.8,1155.2v11.5M1555.0,1157.8v10.6M1612.0,1109.0v17.8M1661.5,1109.0v19.8M1691.5,1022.8v36.2M1730.8,1040.2v25.9M1774.0,954.0v51.1M1966.5,1218.5v8.9"/></g>
</g>
<g filter="url(#bl)">
<path d="M312.6,2808.5H319.6M312.6,2801.2H319.6M312.6,2793.8H319.6M312.6,2786.5H319.6M312.6,2771.9H319.6M312.6,2764.6H319.6M312.6,2757.2H319.6M312.6,2749.9H319.6M312.6,2735.3H319.6M312.6,2728.0H319.6M312.6,2720.6H319.6M312.6,2713.3H319.6M312.6,2698.7H319.6M312.6,2691.4H319.6M312.6,2684.0H319.6M312.6,2676.7H319.6M312.6,2662.1H319.6M312.6,2654.8H319.6M312.6,2647.4H319.6M312.6,2640.1H319.6M312.6,2625.5H319.6M312.6,2618.2H319.6M312.6,2610.8H319.6M312.6,2603.5H319.6M312.6,2588.9H319.6M312.6,2581.6H319.6M312.6,2574.2H319.6M312.6,2566.9H319.6M312.6,2552.3H319.6M312.6,2545.0H319.6M312.6,2537.6H319.6M312.6,2530.3H319.6M312.6,2515.7H319.6M312.6,2508.4H319.6M312.6,2501.0H319.6M312.6,2493.7H319.6M312.6,2479.1H319.6M312.6,2471.8H319.6M312.6,2464.4H319.6M312.6,2457.1H319.6M312.6,2442.5H319.6M312.6,2435.2H319.6M312.6,2427.8H319.6M312.6,2420.5H319.6M312.6,2405.9H319.6M312.6,2398.6H319.6M312.6,2391.2H319.6M312.6,2383.9H319.6M312.6,2369.3H319.6M312.6,2362.0H319.6M312.6,2354.6H319.6M312.6,2347.3H319.6M312.6,2332.7H319.6M312.6,2325.4H319.6M312.6,2318.0H319.6M312.6,2310.7H319.6M312.6,2296.1H319.6M312.6,2288.8H319.6M312.6,2281.4H319.6M312.6,2274.1H319.6M312.6,2259.5H319.6M312.6,2252.2H319.6M312.6,2244.8H319.6M312.6,2237.5H319.6M312.6,2222.9H319.6M312.6,2215.6H319.6M312.6,2208.2H319.6M312.6,2200.9H319.6M312.6,2186.3H319.6M312.6,2179.0H319.6M312.6,2171.6H319.6M312.6,2164.3H319.6M312.6,2149.7H319.6M312.6,2142.4H319.6M312.6,2135.0H319.6M312.6,2127.7H319.6M312.6,2113.1H319.6M312.6,2105.8H319.6M312.6,2098.4H319.6M312.6,2091.1H319.6M312.6,2076.5H319.6M312.6,2069.2H319.6M312.6,2061.8H319.6M312.6,2054.5H319.6M312.6,2039.9H319.6M312.6,2032.6H319.6M312.6,2025.2H319.6M312.6,2017.9H319.6M312.6,2003.3H319.6M312.6,1996.0H319.6M312.6,1988.6H319.6M312.6,1981.3H319.6M312.6,1966.7H319.6M312.6,1959.4H319.6M312.6,1952.0H319.6M312.6,1944.7H319.6M312.6,1930.1H319.6M312.6,1922.8H319.6M312.6,1915.4H319.6M312.6,1908.1H319.6M312.6,1893.5H319.6M312.6,1886.2H319.6M312.6,1878.8H319.6M312.6,1871.5H319.6M312.6,1856.9H319.6M312.6,1849.6H319.6M312.6,1842.2H319.6M312.6,1834.9H319.6M312.6,1820.3H319.6M312.6,1813.0H319.6M312.6,1805.6H319.6M312.6,1798.3H319.6M312.6,1783.7H319.6M312.6,1776.4H319.6M312.6,1769.0H319.6M312.6,1761.7H319.6M312.6,1747.1H319.6M312.6,1739.8H319.6M312.6,1732.4H319.6M312.6,1725.1H319.6" stroke="#444" stroke-width="3.5" fill="none"/>
<path d="M307.2,2815.8H319.6M307.2,2779.2H319.6M307.2,2742.6H319.6M307.2,2706.0H319.6M307.2,2669.4H319.6M307.2,2632.8H319.6M307.2,2596.2H319.6M307.2,2559.6H319.6M307.2,2523.0H319.6M307.2,2486.4H319.6M307.2,2449.8H319.6M307.2,2413.2H319.6M307.2,2376.6H319.6M307.2,2340.0H319.6M307.2,2303.4H319.6M307.2,2266.8H319.6M307.2,2230.2H319.6M307.2,2193.6H319.6M307.2,2157.0H319.6M307.2,2120.4H319.6M307.2,2083.8H319.6M307.2,2047.2H319.6M307.2,2010.6H319.6M307.2,1974.0H319.6M307.2,1937.4H319.6M307.2,1900.8H319.6M307.2,1864.2H319.6M307.2,1827.6H319.6M307.2,1791.0H319.6M307.2,1754.4H319.6M307.2,1717.8H319.6" stroke="#444" stroke-width="3.5" fill="none"/>
<rect x="318" y="1713.5" width="2.8" height="1116.1" fill="#000"/>
<rect x="320.8" y="1713.5" width="1.2" height="1116.1" fill="#888"/>
<path d="M304.3,2815.8H2270.3" stroke="#8c8c8c" stroke-width="4" fill="none"/>
<path d="M465,2815.4H1020" stroke="#2a2a2a" stroke-width="4.2" fill="none"/>
<path d="M1872,2815.4H2131" stroke="#2a2a2a" stroke-width="4.2" fill="none"/>
<path d="M2218,2815.4H2270.3" stroke="#2a2a2a" stroke-width="4" fill="none"/>
<path d="M400.5,2815.8v13M481.7,2815.8v13M563.0,2815.8v13M644.2,2815.8v13M725.4,2815.8v13M806.6,2815.8v13M887.8,2815.8v13M969.1,2815.8v13M1050.3,2815.8v13M1131.5,2815.8v13M1212.7,2815.8v13M1293.9,2815.8v13M1375.2,2815.8v13M1456.4,2815.8v13M1537.6,2815.8v13M1618.8,2815.8v13M1700.0,2815.8v13M1781.3,2815.8v13M1862.5,2815.8v13M1943.7,2815.8v13M2024.9,2815.8v13M2106.1,2815.8v13M2187.4,2815.8v13M2268.6,2815.8v13" stroke="#333" stroke-width="3.4" fill="none"/>
<path d="M335.5,2815.8v6.8M351.8,2815.8v6.8M368.0,2815.8v6.8M384.3,2815.8v6.8M416.8,2815.8v6.8M433.0,2815.8v6.8M449.3,2815.8v6.8M465.5,2815.8v6.8M498.0,2815.8v6.8M514.2,2815.8v6.8M530.5,2815.8v6.8M546.7,2815.8v6.8M579.2,2815.8v6.8M595.4,2815.8v6.8M611.7,2815.8v6.8M627.9,2815.8v6.8M660.4,2815.8v6.8M676.7,2815.8v6.8M692.9,2815.8v6.8M709.2,2815.8v6.8M741.6,2815.8v6.8M757.9,2815.8v6.8M774.1,2815.8v6.8M790.4,2815.8v6.8M822.9,2815.8v6.8M839.1,2815.8v6.8M855.4,2815.8v6.8M871.6,2815.8v6.8M904.1,2815.8v6.8M920.3,2815.8v6.8M936.6,2815.8v6.8M952.8,2815.8v6.8M985.3,2815.8v6.8M1001.5,2815.8v6.8M1017.8,2815.8v6.8M1034.0,2815.8v6.8M1066.5,2815.8v6.8M1082.8,2815.8v6.8M1099.0,2815.8v6.8M1115.3,2815.8v6.8M1147.7,2815.8v6.8M1164.0,2815.8v6.8M1180.2,2815.8v6.8M1196.5,2815.8v6.8M1229.0,2815.8v6.8M1245.2,2815.8v6.8M1261.5,2815.8v6.8M1277.7,2815.8v6.8M1310.2,2815.8v6.8M1326.4,2815.8v6.8M1342.7,2815.8v6.8M1358.9,2815.8v6.8M1391.4,2815.8v6.8M1407.6,2815.8v6.8M1423.9,2815.8v6.8M1440.1,2815.8v6.8M1472.6,2815.8v6.8M1488.9,2815.8v6.8M1505.1,2815.8v6.8M1521.4,2815.8v6.8M1553.8,2815.8v6.8M1570.1,2815.8v6.8M1586.3,2815.8v6.8M1602.6,2815.8v6.8M1635.1,2815.8v6.8M1651.3,2815.8v6.8M1667.6,2815.8v6.8M1683.8,2815.8v6.8M1716.3,2815.8v6.8M1732.5,2815.8v6.8M1748.8,2815.8v6.8M1765.0,2815.8v6.8M1797.5,2815.8v6.8M1813.7,2815.8v6.8M1830.0,2815.8v6.8M1846.2,2815.8v6.8M1878.7,2815.8v6.8M1895.0,2815.8v6.8M1911.2,2815.8v6.8M1927.5,2815.8v6.8M1959.9,2815.8v6.8M1976.2,2815.8v6.8M1992.4,2815.8v6.8M2008.7,2815.8v6.8M2041.2,2815.8v6.8M2057.4,2815.8v6.8M2073.7,2815.8v6.8M2089.9,2815.8v6.8M2122.4,2815.8v6.8M2138.6,2815.8v6.8M2154.9,2815.8v6.8M2171.1,2815.8v6.8M2203.6,2815.8v6.8M2219.8,2815.8v6.8M2236.1,2815.8v6.8M2252.3,2815.8v6.8" stroke="#333" stroke-width="3.4" fill="none"/>
<rect x="304.3" y="2809" width="3.8" height="15" fill="#555"/>
<g class="tr"><path d="M465,2815.5L468.8,2814.2Q472.5,2813 475.6,2812.1L475.6,2812.1Q478.8,2811.2 481.9,2812.5L481.9,2812.5Q485,2813.8 489,2814.3L493.5,2814.9Q497.5,2815.5 501.5,2815.4L526,2815.1Q530,2815 533.9,2814.1L534.9,2813.9Q538.8,2813 542.5,2814L542.5,2814Q546.2,2815 550.2,2814.3L553.6,2813.7Q557.5,2813 561.2,2814.2L561.2,2814.2Q565,2815.5 569,2815.5L651,2815Q655,2815 658.9,2814.1L659.9,2813.9Q663.8,2813 667.6,2814.1L668.7,2814.4Q672.5,2815.5 676.5,2815.4L688.5,2815.1Q692.5,2815 696.1,2813.2L696.4,2813Q700,2811.2 703.1,2810.4L703.1,2810.4Q704.7,2809.9 706.2,2809.9"/>
<path d="M706.2,2809.9Q707.8,2809.9 709.4,2810.4L709.4,2810.4Q712.5,2811.2 716.1,2813L716.4,2813.2Q720,2815 724,2815.1L815,2815Q819,2815 822.8,2814L822.8,2814Q826.5,2813 830.5,2813L835,2813Q839,2813 842.8,2814L842.8,2814Q846.5,2815 850.5,2815.1L862.5,2815.4Q866.5,2815.5 868.4,2816.5L868.4,2816.5Q869.3,2817 870.2,2817"/>
<path d="M870.2,2817Q871.2,2817 872.1,2816.5L872.1,2816.5Q874,2815.5 878,2815.5L962.5,2815Q966.5,2815 970.2,2814L970.2,2814Q974,2813 977.1,2812.8L977.1,2812.8Q980.2,2812.5 981.5,2809.4L981.5,2809.4Q982.8,2806.2 984,2804.4L984,2804.4Q984.6,2803.4 985.3,2803.4"/>
<path d="M985.3,2803.4Q986.1,2803.4 986.9,2804.4L986.9,2804.4Q988.5,2806.2 990.6,2809.4L990.6,2809.4Q992.8,2812.5 995.9,2812.8L995.9,2812.8Q999,2813 1003,2813.1L1016.3,2813.6Q1018.3,2813.7 1019.5,2812.8"/>
<path d="M1019.5,2812.8Q1020.8,2811.8 1021.3,2809.9L1021.7,2808.8Q1022.8,2805 1022.9,2801L1023.9,2774Q1024,2770 1025,2767.5L1025,2767.5Q1026,2765 1026,2761L1026.5,2669Q1026.5,2665 1027.8,2661.2L1027.8,2661.2Q1029,2657.5 1029.1,2653.5L1029.7,2624Q1029.8,2620 1030.6,2619.4L1030.6,2619.4Q1031.1,2619.1 1031.3,2619.9"/>
<path d="M1031.3,2619.9Q1031.6,2620.7 1031.6,2622.7L1032.6,2653.5Q1032.8,2657.5 1033.8,2658.1L1033.8,2658.1Q1034.8,2658.8 1034.8,2662.7L1035.2,2716Q1035.2,2720 1035.6,2724L1037.4,2746Q1037.8,2750 1038.1,2754L1039.9,2776Q1040.2,2780 1040.7,2784L1042.3,2796Q1042.8,2800 1044.2,2803.7L1045.1,2806.3Q1046.5,2810 1047.8,2810.6L1047.8,2810.6Q1048.4,2810.9 1049,2810.1"/>
<path d="M1049,2810.1Q1049.5,2809.3 1050.1,2807.4L1050.4,2806.3Q1051.5,2802.5 1052.5,2798.6L1054.3,2791.4Q1055.2,2787.5 1056.9,2785.2L1056.9,2785.2Q1057.7,2784.1 1058.5,2784"/>
<path d="M1058.5,2784Q1059.2,2783.8 1060,2784.6L1060,2784.6Q1061.5,2786.2 1063.1,2789.9L1064.9,2793.8Q1066.5,2797.5 1068.7,2800.8L1069.3,2801.7Q1071.5,2805 1074,2806.9L1074,2806.9Q1075.2,2807.8 1076.2,2808"/>
<path d="M1076.2,2808Q1077.1,2808.1 1077.8,2807.5L1077.8,2807.5Q1079,2806.2 1079.6,2802.3L1079.7,2801.5Q1080.2,2797.5 1081.2,2796.2L1081.2,2796.2Q1081.8,2795.6 1082.4,2796.1"/>
<path d="M1082.4,2796.1Q1083,2796.6 1083.8,2798.1L1083.8,2798.1Q1085.2,2801.2 1087,2804.8L1087.2,2805.2Q1089,2808.8 1090.9,2810.4L1090.9,2810.4Q1091.8,2811.2 1092.8,2811.5"/>
<path d="M1092.8,2811.5Q1093.7,2811.8 1094.6,2811.6L1094.6,2811.6Q1096.5,2811.2 1098,2810L1098,2810Q1099.5,2808.8 1101.1,2808.1L1101.1,2808.1Q1102.8,2807.5 1103.8,2803.7L1104.2,2802.6Q1105.2,2798.8 1106.5,2797.5L1106.5,2797.5Q1107.1,2796.9 1107.8,2797"/>
<path d="M1107.8,2797Q1108.6,2797.2 1109.4,2798.1L1109.4,2798.1Q1111,2800 1113,2803.5L1113.3,2804Q1115.2,2807.5 1117.1,2809L1117.1,2809Q1119,2810.5 1122.8,2810.9L1122.8,2810.9Q1126.5,2811.2 1130.5,2811.2L1135,2811.2Q1137,2811.2 1138.9,2810.9"/>
<path d="M1138.9,2810.9Q1140.9,2810.6 1142.8,2810L1142.8,2810Q1146.5,2808.8 1148.1,2805.1L1148.7,2803.7Q1150.2,2800 1151.9,2796.5L1151.9,2796.5Q1152.7,2794.8 1153.5,2794.4"/>
<path d="M1153.5,2794.4Q1154.2,2794.1 1155,2795.2L1155,2795.2Q1156.5,2797.5 1157.9,2801.2L1158.8,2803.8Q1160.2,2807.5 1162.1,2809.4L1162.1,2809.4Q1164,2811.2 1166,2811.6L1166,2811.6Q1167,2811.8 1167.5,2811.8"/>
<path d="M1167.5,2811.8Q1168,2811.8 1168,2811.6L1168,2811.6Q1168,2811.2 1172,2810.7L1172.8,2810.6Q1176.8,2810 1179.2,2806.9L1179.3,2806.9Q1181.8,2803.8 1184.2,2802.5L1184.2,2802.5Q1185.5,2801.9 1186.9,2802"/>
<path d="M1186.9,2802Q1188.3,2802.2 1189.9,2803.1L1189.9,2803.1Q1193,2805 1196.3,2807.2L1197.2,2807.8Q1198.8,2808.9 1200.1,2808.8"/>
<path d="M1200.1,2808.8Q1201.4,2808.8 1202.4,2807.5L1202.4,2807.5Q1204.2,2805 1204.5,2801L1205.3,2789Q1205.5,2785 1205.5,2781L1206,2624Q1206,2620 1207.4,2617.5L1207.4,2617.5Q1208.8,2615 1208.8,2611L1208.8,2006.5Q1208.8,2002.5 1210.2,2000L1210.2,2000Q1211.8,1997.5 1211.8,1993.5L1213,1719Q1213,1717 1213,1717"/>
<path d="M1213,1717Q1213,1717 1213,1719L1214.5,1993.5Q1214.5,1997.5 1215.4,2000L1215.4,2000Q1216.2,2002.5 1216.2,2006.5L1216.2,2203.5Q1216.2,2207.5 1217.1,2208.8L1217.1,2208.8Q1218,2210 1218,2214L1218,2391Q1218,2395 1218.9,2396.2L1218.9,2396.2Q1219.8,2397.5 1219.8,2401.5L1219.8,2538.5Q1219.8,2542.5 1220.5,2545L1220.5,2545Q1221.2,2547.5 1221.2,2551.5L1221.2,2638.5Q1221.2,2642.5 1222.1,2645L1222.1,2645Q1223,2647.5 1223,2651.5L1223,2696Q1223,2700 1223.1,2704L1224.1,2731Q1224.2,2735 1224.5,2739L1225.8,2763.5Q1226,2767.5 1226.5,2771.5L1228.8,2791Q1229.2,2795 1230.6,2798.7L1231.1,2800Q1232.5,2803.8 1235.2,2804.4L1235.2,2804.4Q1238,2805 1241.1,2805L1241.1,2805Q1242.7,2805 1243.8,2804.4"/>
<path d="M1243.8,2804.4Q1244.9,2803.8 1245.5,2802.5L1245.5,2802.5Q1246.8,2800 1246.9,2796L1247.9,2764Q1248,2760 1248.1,2756L1249.2,2679Q1249.2,2675 1250.5,2671.2L1250.5,2671.2Q1251.8,2667.5 1251.8,2663.5L1252.2,2576.5Q1252.2,2572.5 1252.4,2568.5L1254.1,2519Q1254.2,2517 1254.3,2517"/>
<path d="M1254.3,2517Q1254.3,2517 1254.4,2519L1255.4,2546Q1255.5,2550 1256.5,2552.5L1256.5,2552.5Q1257.5,2555 1257.5,2559L1258,2656Q1258,2660 1259,2662.5L1259,2662.5Q1260,2665 1260.1,2669L1260.9,2706Q1261,2710 1261.3,2714L1262.2,2726Q1262.4,2728 1262.5,2728"/>
<path d="M1262.5,2728Q1262.7,2728 1262.8,2726L1263.9,2714Q1264.2,2710 1264.5,2706L1265.7,2689Q1265.9,2687 1266.2,2686.2"/>
<path d="M1266.2,2686.2Q1266.5,2685.3 1267,2685.6L1267,2685.6Q1268,2686.2 1268.4,2690.2L1268.9,2696Q1269.2,2700 1269.9,2703.9L1270.3,2706.1Q1271,2710 1271.3,2714L1272.7,2736Q1273,2740 1273.3,2744L1275.2,2768.5Q1275.5,2772.5 1276,2776.5L1277.5,2788.5Q1278,2792.5 1279.4,2796.2L1280.3,2798.8Q1281.8,2802.5 1284.2,2804.4L1284.2,2804.4Q1286.8,2806.2 1290.5,2807.6L1291.8,2808.1Q1295.5,2809.5 1299.5,2809.7L1301.5,2809.8Q1303.5,2809.9 1305.4,2809.9"/>
<path d="M1305.4,2809.9Q1307.4,2809.9 1309.2,2809.8L1309.2,2809.8Q1313,2809.5 1315.5,2807.2L1315.5,2807.2Q1318,2805 1320.5,2805.4L1320.5,2805.4Q1323,2805.8 1325.5,2804.8L1325.5,2804.8Q1328,2803.8 1330.5,2804.1L1330.5,2804.1Q1333,2804.5 1336.8,2803.5L1336.8,2803.5Q1340.5,2802.5 1343.6,2802.8L1343.6,2802.8Q1346.8,2803 1348,2800.2L1348,2800.2Q1349.2,2797.5 1349.9,2793.6L1351.1,2786.4Q1351.8,2782.5 1353,2778.8L1353,2778.8Q1354.2,2775 1355.5,2773.8L1355.5,2773.8Q1356.1,2773.1 1356.8,2773.3"/>
<path d="M1356.8,2773.3Q1357.4,2773.4 1358,2774.4L1358,2774.4Q1359.2,2776.2 1360.3,2780.1L1360.7,2781.2Q1361.8,2785 1362.7,2788.9L1364.5,2796.1Q1365.5,2800 1367.4,2802.2L1367.4,2802.2Q1368.3,2803.4 1369.2,2803.7"/>
<path d="M1369.2,2803.7Q1370.2,2804 1371.1,2803.5L1371.1,2803.5Q1373,2802.5 1374.8,2798.9L1375,2798.6Q1376.8,2795 1378.4,2794.4L1378.4,2794.4Q1379.2,2794.1 1380,2794.4"/>
<path d="M1380,2794.4Q1380.8,2794.7 1381.5,2795.6L1381.5,2795.6Q1383,2797.5 1384.9,2800L1384.9,2800Q1385.8,2801.2 1386.8,2801.7"/>
<path d="M1386.8,2801.7Q1387.7,2802.2 1388.6,2801.9L1388.6,2801.9Q1390.5,2801.2 1392.4,2798.1L1392.4,2798.1Q1394.2,2795 1396.1,2794.8L1396.1,2794.8Q1398,2794.5 1399.9,2792.9L1399.9,2792.9Q1401.8,2791.2 1403.6,2790.9L1403.6,2790.9Q1404.6,2790.7 1405.5,2791.2"/>
<path d="M1405.5,2791.2Q1406.4,2791.6 1407.4,2792.8L1407.4,2792.8Q1409.2,2795 1411.8,2797.5L1411.8,2797.5Q1414.2,2800 1417.4,2801.2L1417.4,2801.2Q1418.9,2801.9 1420.2,2801.6"/>
<path d="M1420.2,2801.6Q1421.4,2801.2 1422.4,2800L1422.4,2800Q1424.2,2797.5 1426.1,2794.4L1426.1,2794.4Q1428,2791.2 1429.2,2791.2L1429.2,2791.2Q1429.9,2791.2 1430.6,2792"/>
<path d="M1430.6,2792Q1431.2,2792.8 1432,2794.4L1432,2794.4Q1433.5,2797.5 1435.1,2800.6L1435.1,2800.6Q1436.8,2803.8 1439.2,2804.4L1439.2,2804.4Q1440.5,2804.7 1441.8,2804.7"/>
<path d="M1441.8,2804.7Q1443,2804.7 1444.2,2804.4L1444.2,2804.4Q1446.8,2803.8 1449.2,2801.9L1449.2,2801.9Q1451.8,2800 1452.7,2796.1L1453.3,2793.9Q1454.2,2790 1454.3,2786L1455,2709Q1455,2705 1456.2,2701.2L1456.2,2701.2Q1457.5,2697.5 1457.5,2693.5L1458,2589Q1458,2585 1458.1,2581L1459.2,2499Q1459.2,2495 1459.4,2491L1460.9,2439Q1460.9,2437 1461.1,2437"/>
<path d="M1461.1,2437Q1461.2,2437 1461.5,2439L1462.5,2448.5Q1463,2452.5 1463,2456.5L1464.2,2576Q1464.2,2580 1465.5,2582.5L1465.5,2582.5Q1466.8,2585 1466.8,2589L1468,2696Q1468,2700 1468.2,2704L1469.8,2731Q1470,2735 1470.2,2739L1472.3,2776Q1472.5,2780 1473.2,2783.9L1474.8,2793.6Q1475.5,2797.5 1477.4,2800.2L1477.4,2800.2Q1479.2,2803 1481.8,2802.1L1481.8,2802.1Q1484.2,2801.2 1486.8,2800L1486.8,2800Q1489.2,2798.8 1492.4,2800.4L1492.4,2800.4Q1495.5,2802 1499.2,2802.9L1499.2,2802.9Q1501.1,2803.3 1503,2803.2"/>
<path d="M1503,2803.2Q1504.9,2803.1 1506.7,2802.4L1508,2801.9Q1511.8,2800.5 1515.6,2801.4L1516.6,2801.6Q1520.5,2802.5 1522.4,2800.6L1522.4,2800.6Q1524.2,2798.8 1526.1,2795.6L1526.1,2795.6Q1528,2792.5 1529.2,2792.2L1529.2,2792.2Q1529.9,2792.1 1530.7,2792.8"/>
<path d="M1530.7,2792.8Q1531.4,2793.4 1532.4,2794.8L1532.4,2794.8Q1534.2,2797.5 1536.8,2799.8L1536.8,2799.8Q1538,2800.9 1539.2,2801.3"/>
<path d="M1539.2,2801.3Q1540.5,2801.8 1541.8,2801.6L1541.8,2801.6Q1544.2,2801.2 1545.3,2797.4L1545.7,2796.3Q1546.8,2792.5 1547.3,2788.5L1548.7,2779Q1549.2,2775 1550.5,2773.1L1550.5,2773.1Q1551.1,2772.2 1551.8,2772.5"/>
<path d="M1551.8,2772.5Q1552.6,2772.8 1553.4,2774.4L1553.4,2774.4Q1555,2777.5 1556.3,2781.3L1558,2786.2Q1559.2,2790 1561.1,2793.1L1561.1,2793.1Q1563,2796.2 1565.5,2797.5L1565.5,2797.5Q1568,2798.8 1570.5,2798.1L1570.5,2798.1Q1573,2797.5 1576.2,2799.9L1577.3,2800.6Q1580.5,2803 1584.2,2803.8L1584.2,2803.8Q1586.1,2804.1 1588.1,2804.3"/>
<path d="M1588.1,2804.3Q1590,2804.4 1592,2804.3L1603.6,2796.4Q1604.5,2792.5 1605.2,2788.6L1606.3,2781.4Q1607,2777.5 1608.2,2775.6L1608.2,2775.6Q1608.9,2774.7 1609.6,2775"/>
<path d="M1609.6,2775Q1610.2,2775.3 1611,2776.9L1611,2776.9Q1612.5,2780 1613.3,2783.9L1614.9,2791.1Q1615.8,2795 1617.6,2796.9L1617.6,2796.9Q1619.5,2798.8 1622.6,2800.4L1622.6,2800.4Q1625.8,2802 1628.9,2803.2L1628.9,2803.2Q1630.4,2803.9 1632.1,2803.8"/>
<path d="M1632.1,2803.8Q1633.8,2803.7 1635.7,2802.9L1635.8,2802.8Q1639.5,2801.2 1643.3,2800.2L1644.4,2799.8Q1648.2,2798.8 1650.1,2798.1L1650.1,2798.1Q1652,2797.5 1653.5,2793.8L1653.5,2793.7Q1655,2790 1655.6,2786.1L1657.6,2773.9Q1658.2,2770 1659.1,2766.1L1659.9,2762.7Q1660.8,2758.8 1662,2758.1L1662,2758.1Q1662.6,2757.8 1663.2,2758.6"/>
<path d="M1663.2,2758.6Q1663.7,2759.4 1664.2,2761.4L1664.8,2763.6Q1665.8,2767.5 1666.5,2771.4L1668.8,2783.6Q1669.5,2787.5 1670.8,2791.3L1672,2795Q1673.2,2798.8 1675.1,2801.2L1675.1,2801.2Q1677,2803.8 1678.9,2804.1L1678.9,2804.1Q1679.8,2804.3 1680.7,2803.8"/>
<path d="M1680.7,2803.8Q1681.6,2803.4 1682.4,2802.2L1682.4,2802.2Q1684,2800 1684.5,2796L1685.3,2789Q1685.8,2785 1685.8,2781L1686.5,2704Q1686.5,2700 1687.6,2697.5L1687.6,2697.5Q1688.8,2695 1688.8,2691L1689.5,2614Q1689.5,2610 1690.5,2609.4L1690.5,2609.4Q1691,2609.1 1691.3,2609.9"/>
<path d="M1691.3,2609.9Q1691.6,2610.7 1691.6,2612.7L1692.4,2643.5Q1692.5,2647.5 1693.5,2650L1693.5,2650Q1694.5,2652.5 1694.5,2656.5L1695,2706Q1695,2710 1695.6,2713.9L1696.4,2718.6Q1697,2722.5 1697.1,2726.5L1698.1,2756Q1698.2,2760 1698.7,2764L1700.3,2776Q1700.8,2780 1701.7,2783.9L1703.5,2791.1Q1704.5,2795 1706.2,2798.6L1706.6,2799.4Q1707.4,2801.2 1708.1,2802"/>
<path d="M1708.1,2802Q1708.9,2802.9 1709.5,2802.8L1709.5,2802.8Q1710.8,2802.5 1711.3,2798.5L1712.7,2789Q1713.2,2785 1713.6,2781L1714.6,2771.5Q1715,2767.5 1716,2764.4L1716,2764.4Q1716.5,2762.8 1717.1,2762.2"/>
<path d="M1717.1,2762.2Q1717.6,2761.6 1718.2,2761.9L1718.2,2761.9Q1719.5,2762.5 1720.5,2765L1720.5,2765Q1721,2766.2 1721.5,2765.9"/>
<path d="M1721.5,2765.9Q1721.9,2765.6 1722.4,2763.8L1722.4,2763.8Q1723.2,2760 1723.3,2756L1724.4,2714Q1724.5,2710 1725.2,2706.1L1725.6,2703.9Q1726.2,2700 1726.3,2696L1727,2594Q1727,2590 1727.5,2586L1728.5,2579Q1728.7,2577 1728.9,2577"/>
<path d="M1728.9,2577Q1729.1,2577 1729.2,2579L1729.8,2593.5Q1730,2597.5 1731,2600L1731,2600Q1732,2602.5 1732.1,2606.5L1733.2,2676Q1733.2,2680 1733.9,2682.5L1733.9,2682.5Q1734.5,2685 1734.6,2689L1735.7,2741Q1735.8,2745 1736.7,2748.9L1737.3,2751.1Q1738.2,2755 1738.4,2759L1739.3,2776Q1739.5,2780 1740.2,2783.9L1741.3,2791.1Q1742,2795 1743.6,2798.7L1744.2,2800.1Q1745.8,2803.8 1748.2,2804.4L1748.2,2804.4Q1749.5,2804.7 1750.9,2804.7"/>
<path d="M1750.9,2804.7Q1752.3,2804.7 1753.9,2804.4L1753.9,2804.4Q1757,2803.8 1759.2,2803.1L1759.2,2803.1Q1761.5,2802.5 1762.1,2798.5L1763.4,2789Q1764,2785 1764.2,2781L1765.5,2759Q1765.8,2755 1765.8,2751L1766.9,2679Q1767,2675 1767.1,2671L1768.9,2594Q1769,2590 1769.1,2586L1770.7,2521.5Q1770.8,2517.5 1771.6,2516.9L1771.6,2516.9Q1772.1,2516.6 1772.3,2517.4"/>
<path d="M1772.3,2517.4Q1772.6,2518.2 1772.7,2520.2L1773.8,2546Q1774,2550 1774.1,2554L1775.2,2631Q1775.2,2635 1776.1,2637.5L1776.1,2637.5Q1777,2640 1777.1,2644L1778.2,2691Q1778.2,2695 1779.1,2697.5L1779.1,2697.5Q1780,2700 1780.1,2704L1781.4,2736Q1781.5,2740 1782.4,2742.5L1782.4,2742.5Q1783.2,2745 1783.5,2749L1784.8,2771Q1785,2775 1785.6,2778.9L1787.6,2791.1Q1788.2,2795 1789.5,2798.8L1790.7,2802.5Q1792,2806.2 1794.5,2806.9L1794.5,2806.9Q1797,2807.5 1799.5,2807.5L1799.5,2807.5Q1802,2807.5 1805.8,2806.9L1805.8,2806.9Q1809.5,2806.2 1813.5,2806.2L1823,2806.2Q1827,2806.2 1831,2806.2L1834.2,2806.2Q1838.2,2806.2 1840.8,2805.4L1840.8,2805.4Q1843.2,2804.5 1845.8,2805.4L1845.8,2805.4Q1848.2,2806.2 1851.4,2808.1L1851.4,2808.1Q1854.5,2810 1858.5,2810.3L1860.5,2810.5Q1864.5,2810.8 1868.2,2810.8L1868.2,2810.8Q1872,2810.8 1874.5,2812.2L1874.5,2812.2Q1875.8,2813 1877.2,2813.2"/>
<path d="M1877.2,2813.2Q1878.6,2813.4 1880.1,2813.1L1880.1,2813.1Q1883.2,2812.5 1886.4,2810.6L1886.4,2810.6Q1889.5,2808.8 1893.2,2807.5L1893.2,2807.5Q1895.1,2806.9 1896.7,2806.7"/>
<path d="M1896.7,2806.7Q1898.2,2806.6 1899.5,2806.9L1899.5,2806.9Q1902,2807.5 1905.1,2809.8L1905.1,2809.8Q1908.2,2812 1911.4,2812.9L1911.4,2812.9Q1914.5,2813.8 1917,2812.5L1917,2812.5Q1919.5,2811.2 1921.4,2810.4L1921.4,2810.4Q1923.2,2809.5 1925.1,2811L1925.1,2811Q1927,2812.5 1931,2813L1933,2813.3Q1937,2813.8 1941,2813.8L1953,2813.8Q1955,2813.8 1956.5,2813"/>
<path d="M1956.5,2813Q1957.9,2812.2 1958.9,2810.6L1958.9,2810.6Q1960.8,2807.5 1962.4,2804.4L1962.4,2804.4Q1964,2801.2 1965.5,2800.9L1965.5,2800.9Q1966.2,2800.7 1967.1,2801"/>
<path d="M1967.1,2801Q1967.9,2801.3 1968.9,2802.1L1968.9,2802.1Q1970.8,2803.8 1973.2,2806.9L1973.3,2806.9Q1975.8,2810 1978.2,2811.5L1978.2,2811.5Q1980.8,2813 1983.9,2811.5L1983.9,2811.5Q1987,2810 1988.9,2809.4L1988.9,2809.4Q1990.8,2808.8 1993.2,2810L1993.2,2810Q1995.8,2811.2 1998.9,2812.1L1998.9,2812.1Q2000.4,2812.6 2002,2812.6"/>
<path d="M2002,2812.6Q2003.6,2812.6 2005.1,2812.1L2005.1,2812.1Q2008.2,2811.2 2010.8,2809.1L2010.8,2809.1Q2012,2808.1 2013.1,2807.8"/>
<path d="M2013.1,2807.8Q2014.2,2807.4 2015.1,2807.9L2015.1,2807.9Q2017,2808.8 2019.5,2810.6L2019.5,2810.6Q2022,2812.5 2024.5,2813.5L2024.5,2813.5Q2027,2814.5 2031,2814.7L2032,2814.8Q2036,2815 2040,2815L2131.5,2815.5"/><path class="tp" d="M1031.5,2620.2v34.6M1213.0,1716.5v285.0M1254.2,2516.5v38.7M1266.0,2686.5v8.1M1461.0,2436.5v66.4M1663.2,2759.0v8.5M1691.5,2610.2v35.0M1729.0,2576.5v34.6M1772.5,2517.8v52.0"/></g>
</g>
<g filter="url(#bt)">
<text transform="translate(183.6,85.4) scale(1,1.03)" font-size="80" stroke="#000" stroke-width="1.1">(C)</text>
<text transform="translate(518,163.4) scale(1,1.03)" font-size="74.5" stroke="#000" stroke-width="1.1">Gallic acid</text>
<text transform="translate(565,279.3) scale(1,1.03)" font-size="75" stroke="#000" stroke-width="1.1">0.479%</text>
<text transform="translate(1620.5,309) scale(1,1.03)" font-size="78.4" stroke="#000" stroke-width="1.1">UV 266 nm</text>
<text transform="translate(1953,1020) scale(1,1.03)" font-size="74.5" stroke="#000" stroke-width="1.1">Berberine</text>
<text transform="translate(1985,1133.5) scale(1,1.03)" font-size="75" stroke="#000" stroke-width="1.1">0.022%</text>
<text transform="translate(133,469.5)" font-size="44" stroke="#000" stroke-width="1.5"><tspan x="0">3.0</tspan><tspan x="70.5" dy="-3" font-size="37">×</tspan><tspan x="104.5" dy="3">10</tspan><tspan x="149.5" dy="-21.5" font-size="28.5">-1</tspan></text>
<text transform="translate(133,752.5)" font-size="44" stroke="#000" stroke-width="1.5"><tspan x="0">2.0</tspan><tspan x="70.5" dy="-3" font-size="37">×</tspan><tspan x="104.5" dy="3">10</tspan><tspan x="149.5" dy="-21.5" font-size="28.5">-1</tspan></text>
<text transform="translate(123.6,1033.5)" font-size="44" stroke="#000" stroke-width="1.5"><tspan x="2.4">1.0</tspan><tspan x="70.5" dy="-3" font-size="37">×</tspan><tspan x="104.5" dy="3">10</tspan><tspan x="149.5" dy="-21.5" font-size="28.5">-1</tspan></text>
<text transform="translate(227,1309)" font-size="44" stroke="#000" stroke-width="1.5">0.0</text>
<text transform="translate(57.5,770.5) rotate(-90)" font-size="44" stroke="#000" stroke-width="1.5">AU</text>
<text transform="translate(2279.6,1299.3) scale(1,1.13)" font-size="23" class="t" stroke="#000" stroke-width="1.5">Time</text>
<text transform="translate(157.4,1588.5) scale(1,1.03)" font-size="80" stroke="#000" stroke-width="1.1">(D)</text>
<text transform="translate(964,1540) scale(1,1.03)" font-size="74.5" stroke="#000" stroke-width="1.1">Chlorogenic acid</text>
<text transform="translate(1105,1656) scale(1,1.03)" font-size="75" stroke="#000" stroke-width="1.1">1.201%</text>
<text transform="translate(1667.5,1776) scale(1,1.03)" font-size="78.4" stroke="#000" stroke-width="1.1">UV 327 nm</text>
<text transform="translate(1356.8,2486.3) scale(0.875,1.02)" font-size="58" text-anchor="middle" class="b">1</text>
<text transform="translate(229.5,1954.3)" font-size="44" stroke="#000" stroke-width="1.5">1.2</text>
<text transform="translate(123,2251)" font-size="44" stroke="#000" stroke-width="1.5"><tspan x="0">8.0</tspan><tspan x="70.5" dy="-3" font-size="37">×</tspan><tspan x="104.5" dy="3">10</tspan><tspan x="149.5" dy="-21.5" font-size="28.5">-1</tspan></text>
<text transform="translate(113,2542)" font-size="44" stroke="#000" stroke-width="1.5"><tspan x="0">4.0</tspan><tspan x="70.5" dy="-3" font-size="37">×</tspan><tspan x="104.5" dy="3">10</tspan><tspan x="149.5" dy="-21.5" font-size="28.5">-1</tspan></text>
<text transform="translate(231.5,2834)" font-size="44" stroke="#000" stroke-width="1.5">0.0</text>
<text transform="translate(49.5,2312) rotate(-90)" font-size="44" stroke="#000" stroke-width="1.5">AU</text>
<text transform="translate(2279.8,2826.3) scale(1,1.13)" font-size="23" class="t" stroke="#000" stroke-width="1.5">Time</text>
<text transform="translate(331.75,1389.3) scale(1,1.085)" font-size="58.5" text-anchor="middle" stroke="#000" stroke-width="1.6">0</text>
<text transform="translate(488,1389.3) scale(1,1.085)" font-size="58.5" text-anchor="middle" stroke="#000" stroke-width="1.6">1</text>
<text transform="translate(654,1389.3) scale(1,1.085)" font-size="58.5" text-anchor="middle" stroke="#000" stroke-width="1.6">2</text>
<text transform="translate(810,1389.3) scale(1,1.085)" font-size="58.5" text-anchor="middle" stroke="#000" stroke-width="1.6">3</text>
<text transform="translate(966.75,1389.3) scale(1,1.085)" font-size="58.5" text-anchor="middle" stroke="#000" stroke-width="1.6">4</text>
<text transform="translate(1142,1389.3) scale(1,1.085)" font-size="58.5" text-anchor="middle" stroke="#000" stroke-width="1.6">5</text>
<text transform="translate(1298.75,1389.3) scale(1,1.085)" font-size="58.5" text-anchor="middle" stroke="#000" stroke-width="1.6">6</text>
<text transform="translate(1465.75,1389.3) scale(1,1.085)" font-size="58.5" text-anchor="middle" stroke="#000" stroke-width="1.6">7</text>
<text transform="translate(1620.75,1389.3) scale(1,1.085)" font-size="58.5" text-anchor="middle" stroke="#000" stroke-width="1.6">8</text>
<text transform="translate(1788.75,1389.3) scale(1,1.085)" font-size="58.5" text-anchor="middle" stroke="#000" stroke-width="1.6">9</text>
<text transform="translate(1941,1389.3) scale(1,1.085)" font-size="58.5" text-anchor="middle" stroke="#000" stroke-width="1.6">10</text>
<text transform="translate(2111.5,1389.3) scale(1,1.085)" font-size="58.5" text-anchor="middle" stroke="#000" stroke-width="1.6">11</text>
<text transform="translate(2236,1389.3) scale(1,1.085)" font-size="58.5" stroke="#000" stroke-width="1.6">12 min</text>
<text transform="translate(323.75,2915.5) scale(1,1.085)" font-size="58.5" text-anchor="middle" stroke="#000" stroke-width="1.6">0</text>
<text transform="translate(480,2915.5) scale(1,1.085)" font-size="58.5" text-anchor="middle" stroke="#000" stroke-width="1.6">1</text>
<text transform="translate(635,2915.5) scale(1,1.085)" font-size="58.5" text-anchor="middle" stroke="#000" stroke-width="1.6">2</text>
<text transform="translate(801.5,2915.5) scale(1,1.085)" font-size="58.5" text-anchor="middle" stroke="#000" stroke-width="1.6">3</text>
<text transform="translate(959.5,2915.5) scale(1,1.085)" font-size="58.5" text-anchor="middle" stroke="#000" stroke-width="1.6">4</text>
<text transform="translate(1135,2915.5) scale(1,1.085)" font-size="58.5" text-anchor="middle" stroke="#000" stroke-width="1.6">5</text>
<text transform="translate(1290.75,2915.5) scale(1,1.085)" font-size="58.5" text-anchor="middle" stroke="#000" stroke-width="1.6">6</text>
<text transform="translate(1457.5,2915.5) scale(1,1.085)" font-size="58.5" text-anchor="middle" stroke="#000" stroke-width="1.6">7</text>
<text transform="translate(1620.75,2915.5) scale(1,1.085)" font-size="58.5" text-anchor="middle" stroke="#000" stroke-width="1.6">8</text>
<text transform="translate(1788.75,2915.5) scale(1,1.085)" font-size="58.5" text-anchor="middle" stroke="#000" stroke-width="1.6">9</text>
<text transform="translate(1952.5,2915.5) scale(1,1.085)" font-size="58.5" text-anchor="middle" stroke="#000" stroke-width="1.6">10</text>
<text transform="translate(2107.5,2915.5) scale(1,1.085)" font-size="58.5" text-anchor="middle" stroke="#000" stroke-width="1.6">11</text>
<text transform="translate(2244,2915.5) scale(1,1.085)" font-size="58.5" stroke="#000" stroke-width="1.6">12 min</text>
</g>
</svg></body></html>
